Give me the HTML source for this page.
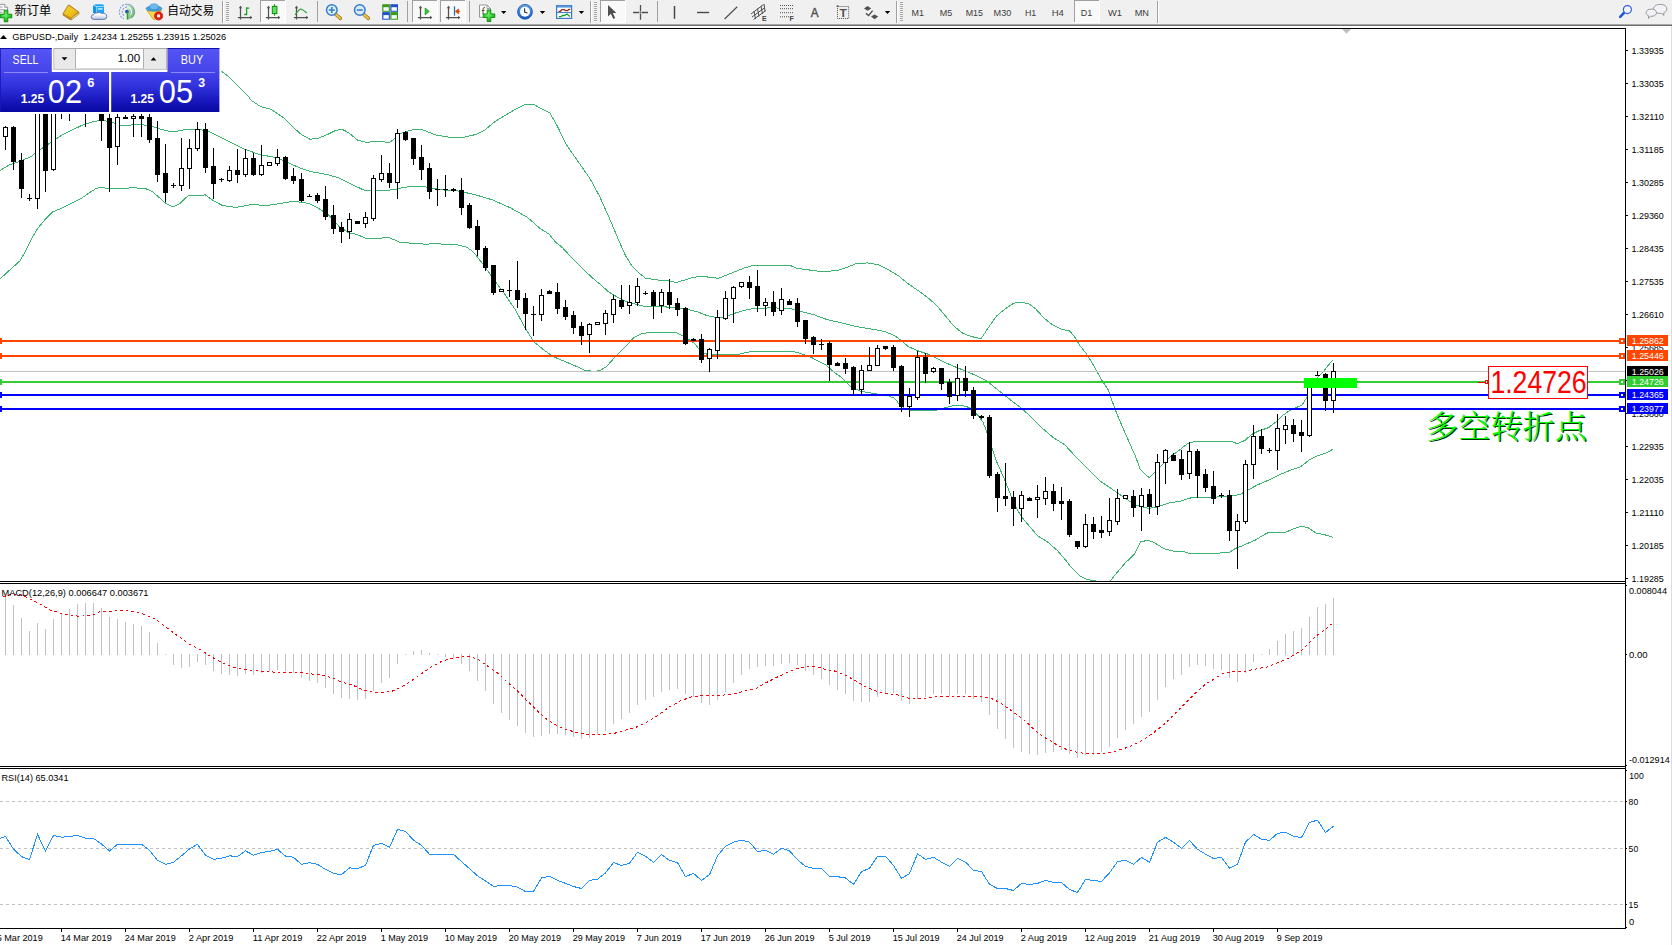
<!DOCTYPE html>
<html><head><meta charset="utf-8"><title>GBPUSD Daily</title>
<style>
html,body{margin:0;padding:0;background:#fff;}
body{width:1672px;height:945px;position:relative;overflow:hidden;font-family:'Liberation Sans', sans-serif;}
#tb{position:absolute;left:0;top:0;width:1672px;height:24px;background:#f0f0f0;}
#tbl1{position:absolute;left:0;top:24px;width:1672px;height:1px;background:#a8a8a8;}
#tbl2{position:absolute;left:0;top:25px;width:1672px;height:1px;background:#6e6e6e;}
#redge{position:absolute;left:1671px;top:26px;width:1px;height:919px;background:#dcdcdc;}
svg{position:absolute;left:0;top:0;}

</style></head><body>
<div id="tb"></div><div id="tbl1"></div><div id="tbl2"></div><div id="redge"></div>
<svg width="1672" height="945" viewBox="0 0 1672 945">
<defs>
<clipPath id="cm"><rect x="0" y="29" width="1625" height="552"/></clipPath>
<clipPath id="cd"><rect x="0" y="584" width="1625" height="182"/></clipPath>
<clipPath id="cr"><rect x="0" y="769" width="1625" height="159"/></clipPath>
</defs>
<g clip-path="url(#cm)" shape-rendering="crispEdges">
<polyline points="221.0,71.0 227.8,76.0 233.2,81.4 241.3,89.5 248.5,96.3 250.8,100.0 261.0,106.8 271.1,109.3 284.7,118.6 294.8,128.8 301.6,134.7 310.1,139.3 318.5,138.1 327.0,134.7 335.5,130.5 342.3,129.3 349.0,133.0 357.5,140.1 366.0,142.3 377.8,141.5 389.7,142.3 396.5,137.3 400.0,133.7 410.2,130.1 422.0,129.5 435.6,134.9 450.8,137.4 464.4,137.1 476.2,134.4 484.7,130.1 494.8,121.7 505.0,115.4 515.2,109.5 525.3,104.4 533.8,104.4 540.6,108.3 549.9,112.9 557.5,126.4 566.0,144.2 577.8,161.1 589.7,178.1 599.8,196.7 610.0,219.6 614.4,230.0 618.6,240.2 625.4,255.4 632.2,266.4 639.0,273.2 645.7,278.3 657.6,280.0 667.7,280.8 676.2,282.5 684.7,280.0 693.1,277.4 701.6,276.1 710.1,277.4 718.5,278.3 727.0,274.9 735.5,271.5 744.0,268.1 752.4,265.6 769.4,265.2 789.7,265.2 796.5,268.1 800.0,268.8 810.2,270.1 822.0,271.7 837.3,270.5 847.4,267.1 855.9,263.7 867.7,262.9 877.9,264.6 888.1,269.6 898.2,275.6 908.4,284.0 918.5,290.8 928.7,298.4 937.2,306.0 945.6,316.2 954.1,326.4 962.6,333.1 971.0,336.5 981.2,338.6 988.0,328.1 996.5,316.2 1000.0,313.0 1006.8,307.9 1013.5,303.4 1020.3,302.0 1028.8,303.7 1035.6,308.8 1044.0,318.1 1052.5,324.9 1061.0,329.1 1069.4,330.8 1074.5,336.7 1079.6,345.2 1086.4,353.7 1093.1,364.7 1101.6,379.9 1108.4,390.1 1111.8,400.2 1116.9,413.8 1121.9,425.6 1129.2,442.3 1136.0,457.6 1140.0,469.1 1145.1,474.2 1149.3,477.6 1155.2,471.7 1162.0,464.9 1170.5,456.4 1179.0,450.5 1187.4,443.7 1194.2,441.7 1207.7,441.2 1221.3,441.2 1231.5,441.5 1237.4,443.7 1245.0,440.3 1251.8,434.4 1258.5,431.0 1268.7,427.6 1277.2,420.8 1282.6,415.5 1289.1,411.0 1295.5,407.8 1302.0,405.2 1307.2,396.8 1312.3,385.2 1317.5,377.4 1323.9,371.0 1330.4,362.6 1333.2,360.0" fill="none" stroke="#3cb371" stroke-width="1"/>
<polyline points="0.0,170.4 10.2,164.5 20.3,161.1 30.5,156.9 40.6,149.3 50.8,142.5 61.0,135.7 71.1,130.6 81.3,125.6 91.5,122.2 101.6,120.1 111.8,122.2 121.9,125.6 135.5,124.7 149.0,125.2 160.9,129.3 172.7,132.0 186.3,129.3 200.0,129.6 208.5,131.3 225.4,139.8 242.3,148.3 259.3,154.5 276.2,157.6 289.8,163.5 301.6,168.6 310.1,171.5 327.0,174.5 338.9,177.9 352.4,184.7 364.3,190.3 374.4,190.3 386.3,190.6 398.1,188.9 400.0,188.2 410.2,186.5 423.7,186.5 442.3,189.9 459.3,191.1 476.2,195.0 493.1,200.1 510.1,207.7 527.0,217.0 540.6,228.9 549.0,234.0 555.8,242.4 562.6,247.8 572.7,258.8 582.9,269.0 594.8,280.0 600.0,284.2 608.5,291.8 616.9,296.9 625.4,301.1 633.9,303.7 644.0,306.2 659.3,306.2 674.5,307.9 688.1,309.6 698.2,312.1 706.7,315.5 715.2,317.2 721.9,317.2 728.7,315.5 735.5,313.0 744.0,310.4 752.4,308.8 769.4,307.9 789.7,308.2 796.5,310.4 800.0,311.2 813.5,314.6 827.1,319.6 842.3,323.0 855.9,326.4 871.1,329.0 884.7,331.5 894.8,335.7 901.6,340.8 908.4,346.7 918.5,351.0 928.7,354.4 935.5,357.7 945.6,362.8 955.8,367.1 966.0,371.3 976.1,375.5 986.3,380.6 994.8,387.4 1003.2,394.2 1010.6,400.0 1020.8,407.6 1031.0,416.9 1041.1,427.1 1053.0,437.3 1064.8,444.9 1075.0,455.9 1088.5,469.4 1100.4,481.3 1110.6,488.1 1119.0,494.0 1127.5,499.9 1136.0,505.0 1140.0,506.4 1148.5,508.4 1156.9,507.2 1168.8,503.0 1180.6,501.0 1190.8,497.9 1199.3,497.1 1211.1,497.6 1221.3,496.5 1231.5,496.2 1239.9,494.5 1248.4,489.8 1258.5,484.4 1268.7,480.1 1278.9,475.0 1289.0,470.8 1300.9,466.6 1309.4,459.8 1317.8,455.6 1326.3,453.0 1333.1,449.1" fill="none" stroke="#3cb371" stroke-width="1"/>
<polyline points="0.0,279.0 10.0,269.8 20.0,260.8 26.2,250.0 30.5,240.7 37.3,228.9 45.7,218.7 52.5,211.9 61.0,208.5 71.1,203.5 81.3,198.4 89.8,192.5 96.5,188.2 101.6,187.4 108.4,188.6 118.5,188.2 135.5,187.9 145.6,188.6 152.4,191.6 159.2,197.5 166.0,203.5 172.7,206.9 179.5,203.8 188.0,195.8 198.1,195.0 200.0,195.7 205.1,194.8 213.5,200.8 222.0,205.3 235.6,207.5 250.8,204.7 267.7,205.3 279.6,203.6 293.1,201.3 308.4,203.3 318.5,208.4 328.7,215.2 338.9,226.2 349.0,232.9 357.5,234.6 366.0,238.5 377.8,238.5 388.0,237.2 398.1,241.4 400.0,242.4 416.9,243.5 427.1,244.4 433.9,243.2 442.3,244.1 457.6,244.9 466.0,246.9 471.1,250.3 476.2,255.4 484.7,266.4 494.8,280.8 505.0,294.4 515.2,309.6 525.3,328.2 533.8,341.8 544.0,350.2 554.1,357.0 564.3,361.2 574.4,365.5 584.6,370.2 594.8,371.4 600.0,370.6 606.8,366.3 613.5,358.7 620.3,351.9 627.1,345.2 633.9,337.5 640.6,334.2 645.7,333.0 659.3,332.8 676.2,332.8 681.3,335.0 688.1,339.2 694.8,343.5 699.9,350.2 705.0,353.6 710.1,355.0 737.2,354.8 744.0,353.1 752.4,351.4 769.4,351.1 791.4,351.1 798.1,352.8 800.0,353.5 808.5,356.0 816.9,360.3 825.4,364.5 833.9,372.1 842.3,378.1 850.8,386.5 859.3,390.8 867.7,392.5 876.2,393.8 888.1,395.8 894.8,398.4 899.9,405.2 905.0,408.5 910.1,410.6 935.5,410.6 944.0,408.0 952.4,406.0 959.2,405.2 966.0,406.3 971.0,408.5 977.8,415.3 982.9,422.1 986.3,430.6 986.9,432.2 992.0,448.3 997.1,462.7 1003.9,477.9 1010.6,494.8 1017.4,510.1 1024.2,520.2 1030.0,526.9 1037.5,535.7 1047.6,542.0 1057.6,550.8 1065.2,559.6 1071.4,567.7 1079.0,575.3 1085.3,578.8 1091.5,580.3 1095.3,580.8 1100.3,582.8 1105.4,582.8 1110.4,580.8 1117.9,571.5 1125.5,562.7 1134.2,554.5 1140.5,542.0 1148.1,540.1 1154.3,542.6 1164.4,548.9 1173.2,551.1 1183.2,551.4 1189.5,553.5 1205.8,553.5 1215.9,553.3 1229.7,552.3 1234.7,548.9 1240.0,546.4 1241.6,546.2 1245.0,544.5 1245.0,544.5 1255.2,540.2 1261.9,536.0 1268.7,532.3 1285.6,532.3 1292.4,529.2 1300.9,526.2 1307.7,527.5 1316.1,533.1 1324.6,534.7 1333.1,537.4" fill="none" stroke="#3cb371" stroke-width="1"/>
</g>
<g shape-rendering="crispEdges">
<rect x="0" y="340" width="1625" height="2" fill="#ff4500"/>
<rect x="0" y="355" width="1625" height="2" fill="#ff4500"/>
<rect x="0" y="371" width="1625" height="1" fill="#c0c0c0"/>
<rect x="0" y="381" width="1625" height="2" fill="#32cd32"/>
<rect x="0" y="394" width="1625" height="2" fill="#0000ff"/>
<rect x="0" y="408" width="1625" height="2" fill="#0000ff"/>
</g>
<rect x="1304" y="378" width="53" height="10" fill="#00ff00" shape-rendering="crispEdges"/>
<g shape-rendering="crispEdges" clip-path="url(#cm)">
<rect x="5" y="126" width="1" height="24" fill="#000"/>
<rect x="3" y="127" width="5" height="10" fill="#000"/>
<rect x="4" y="128" width="3" height="8" fill="#fff"/>
<rect x="13" y="126" width="1" height="44" fill="#000"/>
<rect x="11" y="127" width="5" height="35" fill="#000"/>
<rect x="21" y="153" width="1" height="45" fill="#000"/>
<rect x="19" y="160" width="5" height="29" fill="#000"/>
<rect x="29" y="194" width="1" height="7" fill="#000"/>
<rect x="27" y="198" width="5" height="1" fill="#000"/>
<rect x="37" y="107" width="1" height="102" fill="#000"/>
<rect x="35" y="107" width="5" height="92" fill="#000"/>
<rect x="36" y="108" width="3" height="90" fill="#fff"/>
<rect x="45" y="107" width="1" height="85" fill="#000"/>
<rect x="43" y="107" width="5" height="64" fill="#000"/>
<rect x="53" y="107" width="1" height="64" fill="#000"/>
<rect x="51" y="107" width="5" height="63" fill="#000"/>
<rect x="52" y="108" width="3" height="61" fill="#fff"/>
<rect x="61" y="107" width="1" height="12" fill="#000"/>
<rect x="59" y="107" width="5" height="1" fill="#000"/>
<rect x="69" y="107" width="1" height="14" fill="#000"/>
<rect x="67" y="107" width="5" height="1" fill="#000"/>
<rect x="77" y="107" width="1" height="1" fill="#000"/>
<rect x="75" y="107" width="5" height="1" fill="#000"/>
<rect x="85" y="107" width="1" height="20" fill="#000"/>
<rect x="83" y="107" width="5" height="1" fill="#000"/>
<rect x="93" y="107" width="1" height="1" fill="#000"/>
<rect x="91" y="107" width="5" height="1" fill="#000"/>
<rect x="101" y="107" width="1" height="34" fill="#000"/>
<rect x="99" y="107" width="5" height="14" fill="#000"/>
<rect x="109" y="114" width="1" height="78" fill="#000"/>
<rect x="107" y="118" width="5" height="30" fill="#000"/>
<rect x="117" y="114" width="1" height="51" fill="#000"/>
<rect x="115" y="117" width="5" height="30" fill="#000"/>
<rect x="116" y="118" width="3" height="28" fill="#fff"/>
<rect x="125" y="115" width="1" height="4" fill="#000"/>
<rect x="123" y="117" width="5" height="2" fill="#000"/>
<rect x="133" y="114" width="1" height="23" fill="#000"/>
<rect x="131" y="116" width="5" height="3" fill="#000"/>
<rect x="132" y="117" width="3" height="1" fill="#fff"/>
<rect x="141" y="114" width="1" height="23" fill="#000"/>
<rect x="139" y="116" width="5" height="3" fill="#000"/>
<rect x="149" y="114" width="1" height="29" fill="#000"/>
<rect x="147" y="117" width="5" height="23" fill="#000"/>
<rect x="157" y="121" width="1" height="61" fill="#000"/>
<rect x="155" y="138" width="5" height="37" fill="#000"/>
<rect x="165" y="144" width="1" height="58" fill="#000"/>
<rect x="163" y="173" width="5" height="20" fill="#000"/>
<rect x="173" y="183" width="1" height="5" fill="#000"/>
<rect x="171" y="185" width="5" height="1" fill="#000"/>
<rect x="181" y="138" width="1" height="53" fill="#000"/>
<rect x="179" y="168" width="5" height="18" fill="#000"/>
<rect x="180" y="169" width="3" height="16" fill="#fff"/>
<rect x="189" y="139" width="1" height="50" fill="#000"/>
<rect x="187" y="148" width="5" height="21" fill="#000"/>
<rect x="188" y="149" width="3" height="19" fill="#fff"/>
<rect x="197" y="122" width="1" height="29" fill="#000"/>
<rect x="195" y="129" width="5" height="20" fill="#000"/>
<rect x="196" y="130" width="3" height="18" fill="#fff"/>
<rect x="205" y="123" width="1" height="50" fill="#000"/>
<rect x="203" y="129" width="5" height="39" fill="#000"/>
<rect x="213" y="148" width="1" height="51" fill="#000"/>
<rect x="211" y="166" width="5" height="18" fill="#000"/>
<rect x="221" y="178" width="1" height="4" fill="#000"/>
<rect x="219" y="179" width="5" height="1" fill="#000"/>
<rect x="229" y="166" width="1" height="16" fill="#000"/>
<rect x="227" y="170" width="5" height="11" fill="#000"/>
<rect x="228" y="171" width="3" height="9" fill="#fff"/>
<rect x="237" y="149" width="1" height="34" fill="#000"/>
<rect x="235" y="170" width="5" height="5" fill="#000"/>
<rect x="245" y="149" width="1" height="28" fill="#000"/>
<rect x="243" y="158" width="5" height="17" fill="#000"/>
<rect x="244" y="159" width="3" height="15" fill="#fff"/>
<rect x="253" y="153" width="1" height="23" fill="#000"/>
<rect x="251" y="158" width="5" height="17" fill="#000"/>
<rect x="261" y="145" width="1" height="31" fill="#000"/>
<rect x="259" y="165" width="5" height="10" fill="#000"/>
<rect x="260" y="166" width="3" height="8" fill="#fff"/>
<rect x="269" y="162" width="1" height="4" fill="#000"/>
<rect x="267" y="162" width="5" height="4" fill="#000"/>
<rect x="268" y="163" width="3" height="2" fill="#fff"/>
<rect x="277" y="149" width="1" height="17" fill="#000"/>
<rect x="275" y="157" width="5" height="7" fill="#000"/>
<rect x="276" y="158" width="3" height="5" fill="#fff"/>
<rect x="285" y="156" width="1" height="24" fill="#000"/>
<rect x="283" y="157" width="5" height="22" fill="#000"/>
<rect x="293" y="168" width="1" height="16" fill="#000"/>
<rect x="291" y="176" width="5" height="5" fill="#000"/>
<rect x="301" y="173" width="1" height="29" fill="#000"/>
<rect x="299" y="179" width="5" height="22" fill="#000"/>
<rect x="309" y="194" width="1" height="3" fill="#000"/>
<rect x="307" y="196" width="5" height="1" fill="#000"/>
<rect x="317" y="193" width="1" height="10" fill="#000"/>
<rect x="315" y="195" width="5" height="6" fill="#000"/>
<rect x="325" y="186" width="1" height="34" fill="#000"/>
<rect x="323" y="199" width="5" height="18" fill="#000"/>
<rect x="333" y="205" width="1" height="29" fill="#000"/>
<rect x="331" y="215" width="5" height="14" fill="#000"/>
<rect x="341" y="222" width="1" height="21" fill="#000"/>
<rect x="339" y="227" width="5" height="5" fill="#000"/>
<rect x="349" y="213" width="1" height="26" fill="#000"/>
<rect x="347" y="219" width="5" height="13" fill="#000"/>
<rect x="348" y="220" width="3" height="11" fill="#fff"/>
<rect x="357" y="221" width="1" height="3" fill="#000"/>
<rect x="355" y="221" width="5" height="3" fill="#000"/>
<rect x="365" y="212" width="1" height="16" fill="#000"/>
<rect x="363" y="217" width="5" height="7" fill="#000"/>
<rect x="364" y="218" width="3" height="5" fill="#fff"/>
<rect x="373" y="175" width="1" height="46" fill="#000"/>
<rect x="371" y="178" width="5" height="41" fill="#000"/>
<rect x="372" y="179" width="3" height="39" fill="#fff"/>
<rect x="381" y="155" width="1" height="27" fill="#000"/>
<rect x="379" y="173" width="5" height="7" fill="#000"/>
<rect x="380" y="174" width="3" height="5" fill="#fff"/>
<rect x="389" y="163" width="1" height="25" fill="#000"/>
<rect x="387" y="173" width="5" height="10" fill="#000"/>
<rect x="397" y="129" width="1" height="70" fill="#000"/>
<rect x="395" y="133" width="5" height="50" fill="#000"/>
<rect x="396" y="134" width="3" height="48" fill="#fff"/>
<rect x="405" y="131" width="1" height="10" fill="#000"/>
<rect x="403" y="132" width="5" height="8" fill="#000"/>
<rect x="413" y="138" width="1" height="27" fill="#000"/>
<rect x="411" y="138" width="5" height="21" fill="#000"/>
<rect x="421" y="145" width="1" height="35" fill="#000"/>
<rect x="419" y="157" width="5" height="13" fill="#000"/>
<rect x="429" y="163" width="1" height="36" fill="#000"/>
<rect x="427" y="168" width="5" height="24" fill="#000"/>
<rect x="437" y="179" width="1" height="27" fill="#000"/>
<rect x="435" y="189" width="5" height="1" fill="#000"/>
<rect x="445" y="175" width="1" height="22" fill="#000"/>
<rect x="443" y="189" width="5" height="1" fill="#000"/>
<rect x="453" y="188" width="1" height="4" fill="#000"/>
<rect x="451" y="189" width="5" height="2" fill="#000"/>
<rect x="461" y="178" width="1" height="37" fill="#000"/>
<rect x="459" y="190" width="5" height="18" fill="#000"/>
<rect x="469" y="203" width="1" height="26" fill="#000"/>
<rect x="467" y="205" width="5" height="23" fill="#000"/>
<rect x="477" y="220" width="1" height="36" fill="#000"/>
<rect x="475" y="226" width="5" height="24" fill="#000"/>
<rect x="485" y="246" width="1" height="25" fill="#000"/>
<rect x="483" y="248" width="5" height="20" fill="#000"/>
<rect x="493" y="265" width="1" height="30" fill="#000"/>
<rect x="491" y="265" width="5" height="28" fill="#000"/>
<rect x="501" y="289" width="1" height="3" fill="#000"/>
<rect x="499" y="289" width="5" height="3" fill="#000"/>
<rect x="500" y="290" width="3" height="1" fill="#fff"/>
<rect x="509" y="280" width="1" height="17" fill="#000"/>
<rect x="507" y="290" width="5" height="1" fill="#000"/>
<rect x="517" y="261" width="1" height="47" fill="#000"/>
<rect x="515" y="290" width="5" height="10" fill="#000"/>
<rect x="525" y="293" width="1" height="37" fill="#000"/>
<rect x="523" y="298" width="5" height="16" fill="#000"/>
<rect x="533" y="306" width="1" height="30" fill="#000"/>
<rect x="531" y="314" width="5" height="1" fill="#000"/>
<rect x="541" y="289" width="1" height="32" fill="#000"/>
<rect x="539" y="295" width="5" height="20" fill="#000"/>
<rect x="540" y="296" width="3" height="18" fill="#fff"/>
<rect x="549" y="290" width="1" height="4" fill="#000"/>
<rect x="547" y="291" width="5" height="3" fill="#000"/>
<rect x="557" y="283" width="1" height="31" fill="#000"/>
<rect x="555" y="292" width="5" height="17" fill="#000"/>
<rect x="565" y="300" width="1" height="20" fill="#000"/>
<rect x="563" y="307" width="5" height="10" fill="#000"/>
<rect x="573" y="311" width="1" height="23" fill="#000"/>
<rect x="571" y="315" width="5" height="13" fill="#000"/>
<rect x="581" y="322" width="1" height="23" fill="#000"/>
<rect x="579" y="326" width="5" height="10" fill="#000"/>
<rect x="589" y="323" width="1" height="30" fill="#000"/>
<rect x="587" y="324" width="5" height="11" fill="#000"/>
<rect x="588" y="325" width="3" height="9" fill="#fff"/>
<rect x="597" y="322" width="1" height="3" fill="#000"/>
<rect x="595" y="322" width="5" height="3" fill="#000"/>
<rect x="596" y="323" width="3" height="1" fill="#fff"/>
<rect x="605" y="310" width="1" height="25" fill="#000"/>
<rect x="603" y="313" width="5" height="11" fill="#000"/>
<rect x="604" y="314" width="3" height="9" fill="#fff"/>
<rect x="613" y="295" width="1" height="28" fill="#000"/>
<rect x="611" y="299" width="5" height="16" fill="#000"/>
<rect x="612" y="300" width="3" height="14" fill="#fff"/>
<rect x="621" y="285" width="1" height="24" fill="#000"/>
<rect x="619" y="300" width="5" height="7" fill="#000"/>
<rect x="629" y="285" width="1" height="29" fill="#000"/>
<rect x="627" y="302" width="5" height="4" fill="#000"/>
<rect x="628" y="303" width="3" height="2" fill="#fff"/>
<rect x="637" y="278" width="1" height="28" fill="#000"/>
<rect x="635" y="286" width="5" height="17" fill="#000"/>
<rect x="636" y="287" width="3" height="15" fill="#fff"/>
<rect x="645" y="291" width="1" height="4" fill="#000"/>
<rect x="643" y="293" width="5" height="1" fill="#000"/>
<rect x="653" y="290" width="1" height="29" fill="#000"/>
<rect x="651" y="292" width="5" height="14" fill="#000"/>
<rect x="661" y="289" width="1" height="24" fill="#000"/>
<rect x="659" y="292" width="5" height="14" fill="#000"/>
<rect x="660" y="293" width="3" height="12" fill="#fff"/>
<rect x="669" y="279" width="1" height="30" fill="#000"/>
<rect x="667" y="292" width="5" height="13" fill="#000"/>
<rect x="677" y="298" width="1" height="18" fill="#000"/>
<rect x="675" y="303" width="5" height="7" fill="#000"/>
<rect x="685" y="307" width="1" height="38" fill="#000"/>
<rect x="683" y="308" width="5" height="36" fill="#000"/>
<rect x="693" y="338" width="1" height="3" fill="#000"/>
<rect x="691" y="339" width="5" height="2" fill="#000"/>
<rect x="701" y="334" width="1" height="29" fill="#000"/>
<rect x="699" y="339" width="5" height="21" fill="#000"/>
<rect x="709" y="348" width="1" height="24" fill="#000"/>
<rect x="707" y="349" width="5" height="10" fill="#000"/>
<rect x="708" y="350" width="3" height="8" fill="#fff"/>
<rect x="717" y="310" width="1" height="49" fill="#000"/>
<rect x="715" y="317" width="5" height="34" fill="#000"/>
<rect x="716" y="318" width="3" height="32" fill="#fff"/>
<rect x="725" y="291" width="1" height="29" fill="#000"/>
<rect x="723" y="298" width="5" height="21" fill="#000"/>
<rect x="724" y="299" width="3" height="19" fill="#fff"/>
<rect x="733" y="286" width="1" height="37" fill="#000"/>
<rect x="731" y="287" width="5" height="12" fill="#000"/>
<rect x="732" y="288" width="3" height="10" fill="#fff"/>
<rect x="741" y="282" width="1" height="6" fill="#000"/>
<rect x="739" y="282" width="5" height="5" fill="#000"/>
<rect x="740" y="283" width="3" height="3" fill="#fff"/>
<rect x="749" y="276" width="1" height="23" fill="#000"/>
<rect x="747" y="282" width="5" height="6" fill="#000"/>
<rect x="757" y="270" width="1" height="42" fill="#000"/>
<rect x="755" y="286" width="5" height="20" fill="#000"/>
<rect x="765" y="298" width="1" height="18" fill="#000"/>
<rect x="763" y="302" width="5" height="4" fill="#000"/>
<rect x="764" y="303" width="3" height="2" fill="#fff"/>
<rect x="773" y="291" width="1" height="25" fill="#000"/>
<rect x="771" y="302" width="5" height="10" fill="#000"/>
<rect x="781" y="288" width="1" height="27" fill="#000"/>
<rect x="779" y="299" width="5" height="12" fill="#000"/>
<rect x="780" y="300" width="3" height="10" fill="#fff"/>
<rect x="789" y="299" width="1" height="6" fill="#000"/>
<rect x="787" y="301" width="5" height="4" fill="#000"/>
<rect x="797" y="298" width="1" height="29" fill="#000"/>
<rect x="795" y="303" width="5" height="19" fill="#000"/>
<rect x="805" y="320" width="1" height="24" fill="#000"/>
<rect x="803" y="320" width="5" height="19" fill="#000"/>
<rect x="813" y="336" width="1" height="18" fill="#000"/>
<rect x="811" y="337" width="5" height="8" fill="#000"/>
<rect x="821" y="339" width="1" height="11" fill="#000"/>
<rect x="819" y="344" width="5" height="1" fill="#000"/>
<rect x="829" y="341" width="1" height="40" fill="#000"/>
<rect x="827" y="343" width="5" height="22" fill="#000"/>
<rect x="837" y="362" width="1" height="4" fill="#000"/>
<rect x="835" y="363" width="5" height="3" fill="#000"/>
<rect x="845" y="358" width="1" height="16" fill="#000"/>
<rect x="843" y="363" width="5" height="6" fill="#000"/>
<rect x="853" y="366" width="1" height="30" fill="#000"/>
<rect x="851" y="367" width="5" height="23" fill="#000"/>
<rect x="861" y="365" width="1" height="30" fill="#000"/>
<rect x="859" y="370" width="5" height="20" fill="#000"/>
<rect x="860" y="371" width="3" height="18" fill="#fff"/>
<rect x="869" y="347" width="1" height="24" fill="#000"/>
<rect x="867" y="365" width="5" height="6" fill="#000"/>
<rect x="868" y="366" width="3" height="4" fill="#fff"/>
<rect x="877" y="345" width="1" height="21" fill="#000"/>
<rect x="875" y="348" width="5" height="18" fill="#000"/>
<rect x="876" y="349" width="3" height="16" fill="#fff"/>
<rect x="885" y="346" width="1" height="4" fill="#000"/>
<rect x="883" y="346" width="5" height="3" fill="#000"/>
<rect x="893" y="345" width="1" height="26" fill="#000"/>
<rect x="891" y="347" width="5" height="21" fill="#000"/>
<rect x="901" y="365" width="1" height="47" fill="#000"/>
<rect x="899" y="366" width="5" height="41" fill="#000"/>
<rect x="909" y="388" width="1" height="29" fill="#000"/>
<rect x="907" y="396" width="5" height="11" fill="#000"/>
<rect x="908" y="397" width="3" height="9" fill="#fff"/>
<rect x="917" y="351" width="1" height="49" fill="#000"/>
<rect x="915" y="357" width="5" height="41" fill="#000"/>
<rect x="916" y="358" width="3" height="39" fill="#fff"/>
<rect x="925" y="353" width="1" height="30" fill="#000"/>
<rect x="923" y="357" width="5" height="17" fill="#000"/>
<rect x="933" y="367" width="1" height="6" fill="#000"/>
<rect x="931" y="368" width="5" height="4" fill="#000"/>
<rect x="932" y="369" width="3" height="2" fill="#fff"/>
<rect x="941" y="368" width="1" height="22" fill="#000"/>
<rect x="939" y="368" width="5" height="16" fill="#000"/>
<rect x="949" y="379" width="1" height="25" fill="#000"/>
<rect x="947" y="382" width="5" height="15" fill="#000"/>
<rect x="957" y="364" width="1" height="37" fill="#000"/>
<rect x="955" y="378" width="5" height="18" fill="#000"/>
<rect x="956" y="379" width="3" height="16" fill="#fff"/>
<rect x="965" y="366" width="1" height="31" fill="#000"/>
<rect x="963" y="378" width="5" height="13" fill="#000"/>
<rect x="973" y="387" width="1" height="32" fill="#000"/>
<rect x="971" y="390" width="5" height="26" fill="#000"/>
<rect x="981" y="415" width="1" height="4" fill="#000"/>
<rect x="979" y="416" width="5" height="2" fill="#000"/>
<rect x="989" y="415" width="1" height="63" fill="#000"/>
<rect x="987" y="417" width="5" height="59" fill="#000"/>
<rect x="997" y="472" width="1" height="40" fill="#000"/>
<rect x="995" y="474" width="5" height="24" fill="#000"/>
<rect x="1005" y="463" width="1" height="43" fill="#000"/>
<rect x="1003" y="496" width="5" height="3" fill="#000"/>
<rect x="1013" y="491" width="1" height="35" fill="#000"/>
<rect x="1011" y="497" width="5" height="12" fill="#000"/>
<rect x="1021" y="491" width="1" height="31" fill="#000"/>
<rect x="1019" y="495" width="5" height="14" fill="#000"/>
<rect x="1020" y="496" width="3" height="12" fill="#fff"/>
<rect x="1029" y="497" width="1" height="4" fill="#000"/>
<rect x="1027" y="498" width="5" height="3" fill="#000"/>
<rect x="1037" y="485" width="1" height="33" fill="#000"/>
<rect x="1035" y="497" width="5" height="3" fill="#000"/>
<rect x="1036" y="498" width="3" height="1" fill="#fff"/>
<rect x="1045" y="477" width="1" height="28" fill="#000"/>
<rect x="1043" y="491" width="5" height="8" fill="#000"/>
<rect x="1044" y="492" width="3" height="6" fill="#fff"/>
<rect x="1053" y="484" width="1" height="27" fill="#000"/>
<rect x="1051" y="491" width="5" height="13" fill="#000"/>
<rect x="1061" y="487" width="1" height="33" fill="#000"/>
<rect x="1059" y="501" width="5" height="3" fill="#000"/>
<rect x="1069" y="499" width="1" height="38" fill="#000"/>
<rect x="1067" y="501" width="5" height="34" fill="#000"/>
<rect x="1077" y="541" width="1" height="8" fill="#000"/>
<rect x="1075" y="541" width="5" height="6" fill="#000"/>
<rect x="1085" y="514" width="1" height="34" fill="#000"/>
<rect x="1083" y="524" width="5" height="23" fill="#000"/>
<rect x="1084" y="525" width="3" height="21" fill="#fff"/>
<rect x="1093" y="517" width="1" height="22" fill="#000"/>
<rect x="1091" y="524" width="5" height="8" fill="#000"/>
<rect x="1101" y="516" width="1" height="22" fill="#000"/>
<rect x="1099" y="530" width="5" height="3" fill="#000"/>
<rect x="1109" y="498" width="1" height="38" fill="#000"/>
<rect x="1107" y="520" width="5" height="12" fill="#000"/>
<rect x="1108" y="521" width="3" height="10" fill="#fff"/>
<rect x="1117" y="489" width="1" height="36" fill="#000"/>
<rect x="1115" y="498" width="5" height="24" fill="#000"/>
<rect x="1116" y="499" width="3" height="22" fill="#fff"/>
<rect x="1125" y="495" width="1" height="4" fill="#000"/>
<rect x="1123" y="495" width="5" height="4" fill="#000"/>
<rect x="1124" y="496" width="3" height="2" fill="#fff"/>
<rect x="1133" y="490" width="1" height="27" fill="#000"/>
<rect x="1131" y="496" width="5" height="12" fill="#000"/>
<rect x="1141" y="488" width="1" height="43" fill="#000"/>
<rect x="1139" y="495" width="5" height="12" fill="#000"/>
<rect x="1140" y="496" width="3" height="10" fill="#fff"/>
<rect x="1149" y="489" width="1" height="25" fill="#000"/>
<rect x="1147" y="494" width="5" height="13" fill="#000"/>
<rect x="1157" y="454" width="1" height="61" fill="#000"/>
<rect x="1155" y="462" width="5" height="45" fill="#000"/>
<rect x="1156" y="463" width="3" height="43" fill="#fff"/>
<rect x="1165" y="449" width="1" height="35" fill="#000"/>
<rect x="1163" y="450" width="5" height="13" fill="#000"/>
<rect x="1164" y="451" width="3" height="11" fill="#fff"/>
<rect x="1173" y="453" width="1" height="8" fill="#000"/>
<rect x="1171" y="455" width="5" height="6" fill="#000"/>
<rect x="1181" y="450" width="1" height="30" fill="#000"/>
<rect x="1179" y="459" width="5" height="16" fill="#000"/>
<rect x="1189" y="442" width="1" height="37" fill="#000"/>
<rect x="1187" y="451" width="5" height="23" fill="#000"/>
<rect x="1188" y="452" width="3" height="21" fill="#fff"/>
<rect x="1197" y="449" width="1" height="49" fill="#000"/>
<rect x="1195" y="451" width="5" height="25" fill="#000"/>
<rect x="1205" y="469" width="1" height="23" fill="#000"/>
<rect x="1203" y="474" width="5" height="14" fill="#000"/>
<rect x="1213" y="471" width="1" height="33" fill="#000"/>
<rect x="1211" y="486" width="5" height="13" fill="#000"/>
<rect x="1221" y="493" width="1" height="5" fill="#000"/>
<rect x="1219" y="495" width="5" height="1" fill="#000"/>
<rect x="1229" y="490" width="1" height="51" fill="#000"/>
<rect x="1227" y="495" width="5" height="36" fill="#000"/>
<rect x="1237" y="514" width="1" height="55" fill="#000"/>
<rect x="1235" y="521" width="5" height="10" fill="#000"/>
<rect x="1236" y="522" width="3" height="8" fill="#fff"/>
<rect x="1245" y="460" width="1" height="64" fill="#000"/>
<rect x="1243" y="464" width="5" height="58" fill="#000"/>
<rect x="1244" y="465" width="3" height="56" fill="#fff"/>
<rect x="1253" y="425" width="1" height="54" fill="#000"/>
<rect x="1251" y="436" width="5" height="29" fill="#000"/>
<rect x="1252" y="437" width="3" height="27" fill="#fff"/>
<rect x="1261" y="429" width="1" height="25" fill="#000"/>
<rect x="1259" y="436" width="5" height="13" fill="#000"/>
<rect x="1269" y="448" width="1" height="5" fill="#000"/>
<rect x="1267" y="450" width="5" height="1" fill="#000"/>
<rect x="1277" y="414" width="1" height="56" fill="#000"/>
<rect x="1275" y="428" width="5" height="23" fill="#000"/>
<rect x="1276" y="429" width="3" height="21" fill="#fff"/>
<rect x="1285" y="416" width="1" height="28" fill="#000"/>
<rect x="1283" y="425" width="5" height="5" fill="#000"/>
<rect x="1284" y="426" width="3" height="3" fill="#fff"/>
<rect x="1293" y="419" width="1" height="23" fill="#000"/>
<rect x="1291" y="425" width="5" height="9" fill="#000"/>
<rect x="1301" y="420" width="1" height="32" fill="#000"/>
<rect x="1299" y="432" width="5" height="4" fill="#000"/>
<rect x="1309" y="383" width="1" height="54" fill="#000"/>
<rect x="1307" y="384" width="5" height="52" fill="#000"/>
<rect x="1308" y="385" width="3" height="50" fill="#fff"/>
<rect x="1317" y="371" width="1" height="5" fill="#000"/>
<rect x="1315" y="375" width="5" height="1" fill="#000"/>
<rect x="1325" y="373" width="1" height="38" fill="#000"/>
<rect x="1323" y="374" width="5" height="27" fill="#000"/>
<rect x="1333" y="363" width="1" height="50" fill="#000"/>
<rect x="1331" y="371" width="5" height="30" fill="#000"/>
<rect x="1332" y="372" width="3" height="28" fill="#fff"/>
</g>
<rect x="1304" y="378" width="53" height="10" fill="#00ff00" shape-rendering="crispEdges"/>
<g shape-rendering="crispEdges" clip-path="url(#cd)">
<rect x="5" y="596" width="1" height="59" fill="#c0c0c0"/>
<rect x="13" y="605" width="1" height="50" fill="#c0c0c0"/>
<rect x="21" y="618" width="1" height="37" fill="#c0c0c0"/>
<rect x="29" y="631" width="1" height="24" fill="#c0c0c0"/>
<rect x="37" y="623" width="1" height="32" fill="#c0c0c0"/>
<rect x="45" y="629" width="1" height="26" fill="#c0c0c0"/>
<rect x="53" y="619" width="1" height="36" fill="#c0c0c0"/>
<rect x="61" y="614" width="1" height="41" fill="#c0c0c0"/>
<rect x="69" y="609" width="1" height="46" fill="#c0c0c0"/>
<rect x="77" y="604" width="1" height="51" fill="#c0c0c0"/>
<rect x="85" y="603" width="1" height="52" fill="#c0c0c0"/>
<rect x="93" y="603" width="1" height="52" fill="#c0c0c0"/>
<rect x="101" y="608" width="1" height="47" fill="#c0c0c0"/>
<rect x="109" y="617" width="1" height="38" fill="#c0c0c0"/>
<rect x="117" y="619" width="1" height="36" fill="#c0c0c0"/>
<rect x="125" y="622" width="1" height="33" fill="#c0c0c0"/>
<rect x="133" y="624" width="1" height="31" fill="#c0c0c0"/>
<rect x="141" y="626" width="1" height="29" fill="#c0c0c0"/>
<rect x="149" y="632" width="1" height="23" fill="#c0c0c0"/>
<rect x="157" y="643" width="1" height="12" fill="#c0c0c0"/>
<rect x="165" y="654" width="1" height="1" fill="#c0c0c0"/>
<rect x="173" y="654" width="1" height="11" fill="#c0c0c0"/>
<rect x="181" y="654" width="1" height="14" fill="#c0c0c0"/>
<rect x="189" y="654" width="1" height="13" fill="#c0c0c0"/>
<rect x="197" y="654" width="1" height="8" fill="#c0c0c0"/>
<rect x="205" y="654" width="1" height="11" fill="#c0c0c0"/>
<rect x="213" y="654" width="1" height="17" fill="#c0c0c0"/>
<rect x="221" y="654" width="1" height="20" fill="#c0c0c0"/>
<rect x="229" y="654" width="1" height="21" fill="#c0c0c0"/>
<rect x="237" y="654" width="1" height="22" fill="#c0c0c0"/>
<rect x="245" y="654" width="1" height="20" fill="#c0c0c0"/>
<rect x="253" y="654" width="1" height="21" fill="#c0c0c0"/>
<rect x="261" y="654" width="1" height="19" fill="#c0c0c0"/>
<rect x="269" y="654" width="1" height="17" fill="#c0c0c0"/>
<rect x="277" y="654" width="1" height="16" fill="#c0c0c0"/>
<rect x="285" y="654" width="1" height="17" fill="#c0c0c0"/>
<rect x="293" y="654" width="1" height="19" fill="#c0c0c0"/>
<rect x="301" y="654" width="1" height="24" fill="#c0c0c0"/>
<rect x="309" y="654" width="1" height="27" fill="#c0c0c0"/>
<rect x="317" y="654" width="1" height="29" fill="#c0c0c0"/>
<rect x="325" y="654" width="1" height="34" fill="#c0c0c0"/>
<rect x="333" y="654" width="1" height="40" fill="#c0c0c0"/>
<rect x="341" y="654" width="1" height="44" fill="#c0c0c0"/>
<rect x="349" y="654" width="1" height="45" fill="#c0c0c0"/>
<rect x="357" y="654" width="1" height="46" fill="#c0c0c0"/>
<rect x="365" y="654" width="1" height="45" fill="#c0c0c0"/>
<rect x="373" y="654" width="1" height="37" fill="#c0c0c0"/>
<rect x="381" y="654" width="1" height="29" fill="#c0c0c0"/>
<rect x="389" y="654" width="1" height="24" fill="#c0c0c0"/>
<rect x="397" y="654" width="1" height="10" fill="#c0c0c0"/>
<rect x="405" y="654" width="1" height="1" fill="#c0c0c0"/>
<rect x="413" y="651" width="1" height="4" fill="#c0c0c0"/>
<rect x="421" y="650" width="1" height="5" fill="#c0c0c0"/>
<rect x="429" y="653" width="1" height="2" fill="#c0c0c0"/>
<rect x="437" y="654" width="1" height="1" fill="#c0c0c0"/>
<rect x="445" y="654" width="1" height="3" fill="#c0c0c0"/>
<rect x="453" y="654" width="1" height="4" fill="#c0c0c0"/>
<rect x="461" y="654" width="1" height="10" fill="#c0c0c0"/>
<rect x="469" y="654" width="1" height="17" fill="#c0c0c0"/>
<rect x="477" y="654" width="1" height="27" fill="#c0c0c0"/>
<rect x="485" y="654" width="1" height="37" fill="#c0c0c0"/>
<rect x="493" y="654" width="1" height="50" fill="#c0c0c0"/>
<rect x="501" y="654" width="1" height="59" fill="#c0c0c0"/>
<rect x="509" y="654" width="1" height="66" fill="#c0c0c0"/>
<rect x="517" y="654" width="1" height="72" fill="#c0c0c0"/>
<rect x="525" y="654" width="1" height="79" fill="#c0c0c0"/>
<rect x="533" y="654" width="1" height="83" fill="#c0c0c0"/>
<rect x="541" y="654" width="1" height="82" fill="#c0c0c0"/>
<rect x="549" y="654" width="1" height="80" fill="#c0c0c0"/>
<rect x="557" y="654" width="1" height="80" fill="#c0c0c0"/>
<rect x="565" y="654" width="1" height="81" fill="#c0c0c0"/>
<rect x="573" y="654" width="1" height="83" fill="#c0c0c0"/>
<rect x="581" y="654" width="1" height="85" fill="#c0c0c0"/>
<rect x="589" y="654" width="1" height="84" fill="#c0c0c0"/>
<rect x="597" y="654" width="1" height="81" fill="#c0c0c0"/>
<rect x="605" y="654" width="1" height="77" fill="#c0c0c0"/>
<rect x="613" y="654" width="1" height="70" fill="#c0c0c0"/>
<rect x="621" y="654" width="1" height="65" fill="#c0c0c0"/>
<rect x="629" y="654" width="1" height="59" fill="#c0c0c0"/>
<rect x="637" y="654" width="1" height="51" fill="#c0c0c0"/>
<rect x="645" y="654" width="1" height="46" fill="#c0c0c0"/>
<rect x="653" y="654" width="1" height="43" fill="#c0c0c0"/>
<rect x="661" y="654" width="1" height="38" fill="#c0c0c0"/>
<rect x="669" y="654" width="1" height="36" fill="#c0c0c0"/>
<rect x="677" y="654" width="1" height="35" fill="#c0c0c0"/>
<rect x="685" y="654" width="1" height="40" fill="#c0c0c0"/>
<rect x="693" y="654" width="1" height="43" fill="#c0c0c0"/>
<rect x="701" y="654" width="1" height="49" fill="#c0c0c0"/>
<rect x="709" y="654" width="1" height="51" fill="#c0c0c0"/>
<rect x="717" y="654" width="1" height="46" fill="#c0c0c0"/>
<rect x="725" y="654" width="1" height="38" fill="#c0c0c0"/>
<rect x="733" y="654" width="1" height="29" fill="#c0c0c0"/>
<rect x="741" y="654" width="1" height="21" fill="#c0c0c0"/>
<rect x="749" y="654" width="1" height="15" fill="#c0c0c0"/>
<rect x="757" y="654" width="1" height="13" fill="#c0c0c0"/>
<rect x="765" y="654" width="1" height="12" fill="#c0c0c0"/>
<rect x="773" y="654" width="1" height="12" fill="#c0c0c0"/>
<rect x="781" y="654" width="1" height="10" fill="#c0c0c0"/>
<rect x="789" y="654" width="1" height="9" fill="#c0c0c0"/>
<rect x="797" y="654" width="1" height="11" fill="#c0c0c0"/>
<rect x="805" y="654" width="1" height="17" fill="#c0c0c0"/>
<rect x="813" y="654" width="1" height="21" fill="#c0c0c0"/>
<rect x="821" y="654" width="1" height="25" fill="#c0c0c0"/>
<rect x="829" y="654" width="1" height="31" fill="#c0c0c0"/>
<rect x="837" y="654" width="1" height="36" fill="#c0c0c0"/>
<rect x="845" y="654" width="1" height="40" fill="#c0c0c0"/>
<rect x="853" y="654" width="1" height="47" fill="#c0c0c0"/>
<rect x="861" y="654" width="1" height="48" fill="#c0c0c0"/>
<rect x="869" y="654" width="1" height="48" fill="#c0c0c0"/>
<rect x="877" y="654" width="1" height="43" fill="#c0c0c0"/>
<rect x="885" y="654" width="1" height="39" fill="#c0c0c0"/>
<rect x="893" y="654" width="1" height="39" fill="#c0c0c0"/>
<rect x="901" y="654" width="1" height="47" fill="#c0c0c0"/>
<rect x="909" y="654" width="1" height="50" fill="#c0c0c0"/>
<rect x="917" y="654" width="1" height="45" fill="#c0c0c0"/>
<rect x="925" y="654" width="1" height="43" fill="#c0c0c0"/>
<rect x="933" y="654" width="1" height="40" fill="#c0c0c0"/>
<rect x="941" y="654" width="1" height="40" fill="#c0c0c0"/>
<rect x="949" y="654" width="1" height="42" fill="#c0c0c0"/>
<rect x="957" y="654" width="1" height="40" fill="#c0c0c0"/>
<rect x="965" y="654" width="1" height="40" fill="#c0c0c0"/>
<rect x="973" y="654" width="1" height="45" fill="#c0c0c0"/>
<rect x="981" y="654" width="1" height="48" fill="#c0c0c0"/>
<rect x="989" y="654" width="1" height="61" fill="#c0c0c0"/>
<rect x="997" y="654" width="1" height="75" fill="#c0c0c0"/>
<rect x="1005" y="654" width="1" height="85" fill="#c0c0c0"/>
<rect x="1013" y="654" width="1" height="94" fill="#c0c0c0"/>
<rect x="1021" y="654" width="1" height="98" fill="#c0c0c0"/>
<rect x="1029" y="654" width="1" height="100" fill="#c0c0c0"/>
<rect x="1037" y="654" width="1" height="101" fill="#c0c0c0"/>
<rect x="1045" y="654" width="1" height="99" fill="#c0c0c0"/>
<rect x="1053" y="654" width="1" height="98" fill="#c0c0c0"/>
<rect x="1061" y="654" width="1" height="96" fill="#c0c0c0"/>
<rect x="1069" y="654" width="1" height="100" fill="#c0c0c0"/>
<rect x="1077" y="654" width="1" height="104" fill="#c0c0c0"/>
<rect x="1085" y="654" width="1" height="101" fill="#c0c0c0"/>
<rect x="1093" y="654" width="1" height="101" fill="#c0c0c0"/>
<rect x="1101" y="654" width="1" height="98" fill="#c0c0c0"/>
<rect x="1109" y="654" width="1" height="93" fill="#c0c0c0"/>
<rect x="1117" y="654" width="1" height="84" fill="#c0c0c0"/>
<rect x="1125" y="654" width="1" height="76" fill="#c0c0c0"/>
<rect x="1133" y="654" width="1" height="70" fill="#c0c0c0"/>
<rect x="1141" y="654" width="1" height="63" fill="#c0c0c0"/>
<rect x="1149" y="654" width="1" height="58" fill="#c0c0c0"/>
<rect x="1157" y="654" width="1" height="46" fill="#c0c0c0"/>
<rect x="1165" y="654" width="1" height="33" fill="#c0c0c0"/>
<rect x="1173" y="654" width="1" height="25" fill="#c0c0c0"/>
<rect x="1181" y="654" width="1" height="21" fill="#c0c0c0"/>
<rect x="1189" y="654" width="1" height="13" fill="#c0c0c0"/>
<rect x="1197" y="654" width="1" height="11" fill="#c0c0c0"/>
<rect x="1205" y="654" width="1" height="12" fill="#c0c0c0"/>
<rect x="1213" y="654" width="1" height="15" fill="#c0c0c0"/>
<rect x="1221" y="654" width="1" height="16" fill="#c0c0c0"/>
<rect x="1229" y="654" width="1" height="24" fill="#c0c0c0"/>
<rect x="1237" y="654" width="1" height="28" fill="#c0c0c0"/>
<rect x="1245" y="654" width="1" height="19" fill="#c0c0c0"/>
<rect x="1253" y="654" width="1" height="8" fill="#c0c0c0"/>
<rect x="1261" y="654" width="1" height="1" fill="#c0c0c0"/>
<rect x="1269" y="649" width="1" height="6" fill="#c0c0c0"/>
<rect x="1277" y="641" width="1" height="14" fill="#c0c0c0"/>
<rect x="1285" y="634" width="1" height="21" fill="#c0c0c0"/>
<rect x="1293" y="631" width="1" height="24" fill="#c0c0c0"/>
<rect x="1301" y="628" width="1" height="27" fill="#c0c0c0"/>
<rect x="1309" y="617" width="1" height="38" fill="#c0c0c0"/>
<rect x="1317" y="607" width="1" height="48" fill="#c0c0c0"/>
<rect x="1325" y="604" width="1" height="51" fill="#c0c0c0"/>
<rect x="1333" y="598" width="1" height="57" fill="#c0c0c0"/>
</g>
<g clip-path="url(#cd)" shape-rendering="crispEdges">
<polyline points="3.0,597.1 12.1,594.0 22.1,595.1 30.1,599.1 40.2,604.1 50.2,610.1 60.3,613.1 70.3,615.6 80.4,616.2 92.4,615.1 100.5,611.5 112.5,611.1 120.6,610.1 128.6,610.5 140.7,613.1 154.7,618.6 164.8,626.2 176.8,635.2 188.9,643.9 198.9,648.7 209.0,655.3 221.1,662.4 233.1,667.4 245.2,669.4 261.2,671.4 281.3,672.4 297.4,672.4 309.5,673.8 321.5,675.0 333.0,678.0 340.0,681.5 348.1,683.9 356.1,686.5 364.2,690.5 372.2,692.1 382.2,692.5 392.3,691.1 400.3,687.5 410.4,681.5 420.4,674.4 430.5,667.4 440.5,662.0 450.6,658.4 460.6,656.7 470.7,656.7 478.7,660.0 486.7,665.4 496.8,672.4 506.8,681.5 516.9,690.5 526.9,700.6 537.0,710.6 547.0,719.6 557.1,725.7 567.1,729.7 577.2,732.7 587.2,734.7 597.3,735.1 607.3,734.3 617.4,732.7 627.4,729.7 637.5,726.7 647.5,721.7 657.6,715.6 663.0,711.6 670.0,706.6 680.1,701.0 692.2,696.5 704.2,695.5 720.3,695.5 736.4,693.5 746.4,690.5 756.5,688.1 766.5,682.5 776.6,677.4 786.6,672.8 796.7,668.8 806.7,666.4 816.7,666.8 824.8,669.4 836.8,671.4 846.9,676.0 856.9,681.5 867.0,687.5 877.0,691.5 887.1,693.5 899.1,695.1 909.2,698.5 925.3,698.5 933.3,697.1 945.4,696.5 961.4,696.5 981.5,696.5 989.6,698.5 993.0,699.1 1002.1,704.2 1010.1,709.6 1018.1,715.6 1026.2,721.7 1034.2,729.7 1042.2,736.1 1050.3,740.7 1058.3,745.8 1066.4,749.4 1074.4,751.8 1084.4,753.4 1094.5,753.8 1104.5,753.4 1114.6,751.4 1124.6,748.4 1134.7,744.4 1144.7,738.7 1154.8,731.7 1164.8,723.7 1174.9,713.6 1184.9,703.6 1195.0,693.5 1205.0,684.5 1215.1,678.4 1223.1,673.4 1231.1,671.8 1245.2,671.4 1253.3,669.4 1267.3,667.0 1275.4,663.8 1280.9,661.5 1288.2,658.6 1294.6,654.5 1300.5,651.3 1306.4,645.4 1312.3,639.5 1318.2,634.3 1324.6,630.2 1330.5,624.9 1333.7,622.7" fill="none" stroke="#ff0000" stroke-width="1" stroke-dasharray="2.6 3"/>
</g>
<g shape-rendering="crispEdges">
<line x1="0" y1="801.5" x2="1625" y2="801.5" stroke="#c0c0c0" stroke-width="1" stroke-dasharray="3 3"/>
<line x1="0" y1="848.5" x2="1625" y2="848.5" stroke="#c0c0c0" stroke-width="1" stroke-dasharray="3 3"/>
<line x1="0" y1="904.5" x2="1625" y2="904.5" stroke="#c0c0c0" stroke-width="1" stroke-dasharray="3 3"/>
</g>
<g clip-path="url(#cr)" shape-rendering="crispEdges">
<polyline points="-2.5,839.0 5.5,836.5 13.5,849.0 21.5,856.6 29.5,859.6 37.5,834.5 45.5,850.8 53.5,835.5 61.5,837.2 69.5,836.5 77.5,835.5 85.5,838.2 93.5,838.5 101.5,844.0 109.5,851.0 117.5,844.3 125.5,844.3 133.5,844.3 141.5,844.3 149.5,850.3 157.5,860.3 165.5,864.4 173.5,862.3 181.5,855.8 189.5,849.0 197.5,844.3 205.5,855.3 213.5,859.3 221.5,858.3 229.5,855.8 237.5,856.6 245.5,850.8 253.5,855.3 261.5,852.5 269.5,851.3 277.5,849.3 285.5,856.1 293.5,857.3 301.5,864.4 309.5,862.6 317.5,864.4 325.5,869.4 333.5,873.4 341.5,874.7 349.5,867.9 357.5,868.6 365.5,865.4 373.5,845.3 381.5,843.3 389.5,847.3 397.5,829.4 405.5,831.4 413.5,840.2 421.5,845.3 429.5,854.3 437.5,854.3 445.5,854.3 453.5,854.3 461.5,861.6 469.5,868.6 477.5,875.9 485.5,880.9 493.5,886.5 501.5,885.5 509.5,885.5 517.5,887.2 525.5,891.5 533.5,891.5 541.5,877.9 549.5,876.4 557.5,880.4 565.5,883.4 573.5,886.5 581.5,888.5 589.5,880.4 597.5,879.2 605.5,872.9 613.5,862.6 621.5,865.4 629.5,863.3 637.5,852.3 645.5,856.3 653.5,862.3 661.5,854.6 669.5,860.3 677.5,862.6 685.5,876.7 693.5,873.4 701.5,880.4 709.5,874.7 717.5,855.8 725.5,846.3 733.5,842.2 741.5,840.2 749.5,842.2 757.5,851.5 765.5,850.3 773.5,854.3 781.5,848.3 789.5,850.8 797.5,859.8 805.5,866.4 813.5,868.4 821.5,868.4 829.5,876.7 837.5,876.7 845.5,877.9 853.5,884.4 861.5,871.6 869.5,868.4 877.5,856.3 885.5,856.3 893.5,865.4 901.5,878.4 909.5,873.6 917.5,853.8 925.5,859.3 933.5,857.3 941.5,862.1 949.5,866.4 957.5,858.3 965.5,862.1 973.5,870.4 981.5,871.4 989.5,884.4 997.5,888.5 1005.5,888.5 1013.5,890.5 1021.5,883.4 1029.5,884.4 1037.5,883.4 1045.5,880.4 1053.5,882.4 1061.5,882.4 1069.5,889.5 1077.5,892.5 1085.5,879.4 1093.5,880.4 1101.5,881.4 1109.5,872.9 1117.5,861.6 1125.5,860.3 1133.5,864.4 1141.5,857.3 1149.5,862.3 1157.5,842.2 1165.5,837.5 1173.5,842.2 1181.5,848.3 1189.5,840.5 1197.5,849.3 1205.5,854.1 1213.5,858.6 1221.5,857.3 1229.5,868.3 1237.5,864.3 1245.5,842.1 1253.5,834.4 1261.5,839.3 1269.5,840.4 1277.5,833.4 1285.5,832.2 1293.5,836.3 1301.5,837.6 1309.5,822.4 1317.5,820.2 1325.5,832.5 1333.5,826.2" fill="none" stroke="#1e90ff" stroke-width="1"/>
</g>
<g shape-rendering="crispEdges" fill="#000">
<rect x="0" y="28" width="1626" height="1" fill="#000"/>
<rect x="1625" y="28" width="1" height="901" fill="#000"/>
<rect x="0" y="581" width="1626" height="1" fill="#000"/>
<rect x="0" y="583" width="1626" height="1" fill="#000"/>
<rect x="0" y="766" width="1626" height="1" fill="#000"/>
<rect x="0" y="768" width="1626" height="1" fill="#000"/>
<rect x="0" y="928" width="1626" height="1" fill="#000"/>
<rect x="1626" y="50" width="2" height="1" fill="#000"/>
<rect x="1626" y="83" width="2" height="1" fill="#000"/>
<rect x="1626" y="116" width="2" height="1" fill="#000"/>
<rect x="1626" y="149" width="2" height="1" fill="#000"/>
<rect x="1626" y="182" width="2" height="1" fill="#000"/>
<rect x="1626" y="215" width="2" height="1" fill="#000"/>
<rect x="1626" y="248" width="2" height="1" fill="#000"/>
<rect x="1626" y="281" width="2" height="1" fill="#000"/>
<rect x="1626" y="314" width="2" height="1" fill="#000"/>
<rect x="1626" y="347" width="2" height="1" fill="#000"/>
<rect x="1626" y="380" width="2" height="1" fill="#000"/>
<rect x="1626" y="413" width="2" height="1" fill="#000"/>
<rect x="1626" y="446" width="2" height="1" fill="#000"/>
<rect x="1626" y="479" width="2" height="1" fill="#000"/>
<rect x="1626" y="512" width="2" height="1" fill="#000"/>
<rect x="1626" y="545" width="2" height="1" fill="#000"/>
<rect x="1626" y="578" width="2" height="1" fill="#000"/>
<rect x="1626" y="585" width="1" height="1" fill="#000"/>
<rect x="1626" y="654" width="1" height="1" fill="#000"/>
<rect x="1626" y="765" width="1" height="1" fill="#000"/>
<rect x="1626" y="770" width="1" height="1" fill="#000"/>
<rect x="1626" y="801" width="1" height="1" fill="#000"/>
<rect x="1626" y="848" width="1" height="1" fill="#000"/>
<rect x="1626" y="904" width="1" height="1" fill="#000"/>
<rect x="1626" y="927" width="1" height="1" fill="#000"/>
<rect x="61" y="929" width="1" height="3" fill="#000"/>
<rect x="125" y="929" width="1" height="3" fill="#000"/>
<rect x="189" y="929" width="1" height="3" fill="#000"/>
<rect x="253" y="929" width="1" height="3" fill="#000"/>
<rect x="317" y="929" width="1" height="3" fill="#000"/>
<rect x="381" y="929" width="1" height="3" fill="#000"/>
<rect x="445" y="929" width="1" height="3" fill="#000"/>
<rect x="509" y="929" width="1" height="3" fill="#000"/>
<rect x="573" y="929" width="1" height="3" fill="#000"/>
<rect x="637" y="929" width="1" height="3" fill="#000"/>
<rect x="701" y="929" width="1" height="3" fill="#000"/>
<rect x="765" y="929" width="1" height="3" fill="#000"/>
<rect x="829" y="929" width="1" height="3" fill="#000"/>
<rect x="893" y="929" width="1" height="3" fill="#000"/>
<rect x="957" y="929" width="1" height="3" fill="#000"/>
<rect x="1021" y="929" width="1" height="3" fill="#000"/>
<rect x="1085" y="929" width="1" height="3" fill="#000"/>
<rect x="1149" y="929" width="1" height="3" fill="#000"/>
<rect x="1213" y="929" width="1" height="3" fill="#000"/>
<rect x="1277" y="929" width="1" height="3" fill="#000"/>
</g>
<path d="M1342,29 H1351 L1346.5,33.8 Z" fill="#c0c0c0"/>
<g font-family="'Liberation Sans', sans-serif">
<text x="1631.5" y="53.6" font-size="9.6" fill="#000" font-weight="normal" text-anchor="start" textLength="32.3" lengthAdjust="spacingAndGlyphs">1.33935</text>
<text x="1631.5" y="86.6" font-size="9.6" fill="#000" font-weight="normal" text-anchor="start" textLength="32.3" lengthAdjust="spacingAndGlyphs">1.33035</text>
<text x="1631.5" y="119.6" font-size="9.6" fill="#000" font-weight="normal" text-anchor="start" textLength="32.3" lengthAdjust="spacingAndGlyphs">1.32110</text>
<text x="1631.5" y="152.6" font-size="9.6" fill="#000" font-weight="normal" text-anchor="start" textLength="32.3" lengthAdjust="spacingAndGlyphs">1.31185</text>
<text x="1631.5" y="185.6" font-size="9.6" fill="#000" font-weight="normal" text-anchor="start" textLength="32.3" lengthAdjust="spacingAndGlyphs">1.30285</text>
<text x="1631.5" y="218.6" font-size="9.6" fill="#000" font-weight="normal" text-anchor="start" textLength="32.3" lengthAdjust="spacingAndGlyphs">1.29360</text>
<text x="1631.5" y="251.6" font-size="9.6" fill="#000" font-weight="normal" text-anchor="start" textLength="32.3" lengthAdjust="spacingAndGlyphs">1.28435</text>
<text x="1631.5" y="284.6" font-size="9.6" fill="#000" font-weight="normal" text-anchor="start" textLength="32.3" lengthAdjust="spacingAndGlyphs">1.27535</text>
<text x="1631.5" y="317.6" font-size="9.6" fill="#000" font-weight="normal" text-anchor="start" textLength="32.3" lengthAdjust="spacingAndGlyphs">1.26610</text>
<text x="1631.5" y="350.6" font-size="9.6" fill="#000" font-weight="normal" text-anchor="start" textLength="32.3" lengthAdjust="spacingAndGlyphs">1.25685</text>
<text x="1631.5" y="383.6" font-size="9.6" fill="#000" font-weight="normal" text-anchor="start" textLength="32.3" lengthAdjust="spacingAndGlyphs">1.24785</text>
<text x="1631.5" y="416.6" font-size="9.6" fill="#000" font-weight="normal" text-anchor="start" textLength="32.3" lengthAdjust="spacingAndGlyphs">1.23860</text>
<text x="1631.5" y="449.6" font-size="9.6" fill="#000" font-weight="normal" text-anchor="start" textLength="32.3" lengthAdjust="spacingAndGlyphs">1.22935</text>
<text x="1631.5" y="482.6" font-size="9.6" fill="#000" font-weight="normal" text-anchor="start" textLength="32.3" lengthAdjust="spacingAndGlyphs">1.22035</text>
<text x="1631.5" y="515.6" font-size="9.6" fill="#000" font-weight="normal" text-anchor="start" textLength="32.3" lengthAdjust="spacingAndGlyphs">1.21110</text>
<text x="1631.5" y="548.6" font-size="9.6" fill="#000" font-weight="normal" text-anchor="start" textLength="32.3" lengthAdjust="spacingAndGlyphs">1.20185</text>
<text x="1631.5" y="581.6" font-size="9.6" fill="#000" font-weight="normal" text-anchor="start" textLength="32.3" lengthAdjust="spacingAndGlyphs">1.19285</text>
<text x="1629" y="593.8" font-size="9.6" fill="#000" font-weight="normal" text-anchor="start" textLength="38" lengthAdjust="spacingAndGlyphs">0.008044</text>
<text x="1629" y="657.8" font-size="9.6" fill="#000" font-weight="normal" text-anchor="start" textLength="18.5" lengthAdjust="spacingAndGlyphs">0.00</text>
<text x="1629" y="762.8" font-size="9.6" fill="#000" font-weight="normal" text-anchor="start" textLength="40.7" lengthAdjust="spacingAndGlyphs">-0.012914</text>
<text x="1629.3" y="778.9" font-size="9.6" fill="#000" font-weight="normal" text-anchor="start" textLength="14.4" lengthAdjust="spacingAndGlyphs">100</text>
<text x="1628.6" y="804.8" font-size="9.6" fill="#000" font-weight="normal" text-anchor="start" textLength="9.6" lengthAdjust="spacingAndGlyphs">80</text>
<text x="1628.6" y="851.8" font-size="9.6" fill="#000" font-weight="normal" text-anchor="start" textLength="9.6" lengthAdjust="spacingAndGlyphs">50</text>
<text x="1628.6" y="907.9" font-size="9.6" fill="#000" font-weight="normal" text-anchor="start" textLength="9.6" lengthAdjust="spacingAndGlyphs">15</text>
<text x="1628.9" y="924.9" font-size="9.6" fill="#000" font-weight="normal" text-anchor="start" textLength="5.2" lengthAdjust="spacingAndGlyphs">0</text>
<text x="-3.3" y="940.7" font-size="9.6" fill="#000" font-weight="normal" text-anchor="start" textLength="46.0" lengthAdjust="spacingAndGlyphs">5 Mar 2019</text>
<text x="60.7" y="940.7" font-size="9.6" fill="#000" font-weight="normal" text-anchor="start" textLength="51.0" lengthAdjust="spacingAndGlyphs">14 Mar 2019</text>
<text x="124.7" y="940.7" font-size="9.6" fill="#000" font-weight="normal" text-anchor="start" textLength="51.0" lengthAdjust="spacingAndGlyphs">24 Mar 2019</text>
<text x="188.7" y="940.7" font-size="9.6" fill="#000" font-weight="normal" text-anchor="start" textLength="44.7" lengthAdjust="spacingAndGlyphs">2 Apr 2019</text>
<text x="252.7" y="940.7" font-size="9.6" fill="#000" font-weight="normal" text-anchor="start" textLength="49.7" lengthAdjust="spacingAndGlyphs">11 Apr 2019</text>
<text x="316.7" y="940.7" font-size="9.6" fill="#000" font-weight="normal" text-anchor="start" textLength="49.7" lengthAdjust="spacingAndGlyphs">22 Apr 2019</text>
<text x="380.7" y="940.7" font-size="9.6" fill="#000" font-weight="normal" text-anchor="start" textLength="47.3" lengthAdjust="spacingAndGlyphs">1 May 2019</text>
<text x="444.7" y="940.7" font-size="9.6" fill="#000" font-weight="normal" text-anchor="start" textLength="52.3" lengthAdjust="spacingAndGlyphs">10 May 2019</text>
<text x="508.7" y="940.7" font-size="9.6" fill="#000" font-weight="normal" text-anchor="start" textLength="52.3" lengthAdjust="spacingAndGlyphs">20 May 2019</text>
<text x="572.7" y="940.7" font-size="9.6" fill="#000" font-weight="normal" text-anchor="start" textLength="52.3" lengthAdjust="spacingAndGlyphs">29 May 2019</text>
<text x="636.7" y="940.7" font-size="9.6" fill="#000" font-weight="normal" text-anchor="start" textLength="44.9" lengthAdjust="spacingAndGlyphs">7 Jun 2019</text>
<text x="700.7" y="940.7" font-size="9.6" fill="#000" font-weight="normal" text-anchor="start" textLength="49.9" lengthAdjust="spacingAndGlyphs">17 Jun 2019</text>
<text x="764.7" y="940.7" font-size="9.6" fill="#000" font-weight="normal" text-anchor="start" textLength="49.9" lengthAdjust="spacingAndGlyphs">26 Jun 2019</text>
<text x="828.7" y="940.7" font-size="9.6" fill="#000" font-weight="normal" text-anchor="start" textLength="41.9" lengthAdjust="spacingAndGlyphs">5 Jul 2019</text>
<text x="892.7" y="940.7" font-size="9.6" fill="#000" font-weight="normal" text-anchor="start" textLength="46.9" lengthAdjust="spacingAndGlyphs">15 Jul 2019</text>
<text x="956.7" y="940.7" font-size="9.6" fill="#000" font-weight="normal" text-anchor="start" textLength="46.9" lengthAdjust="spacingAndGlyphs">24 Jul 2019</text>
<text x="1020.7" y="940.7" font-size="9.6" fill="#000" font-weight="normal" text-anchor="start" textLength="46.5" lengthAdjust="spacingAndGlyphs">2 Aug 2019</text>
<text x="1084.7" y="940.7" font-size="9.6" fill="#000" font-weight="normal" text-anchor="start" textLength="51.5" lengthAdjust="spacingAndGlyphs">12 Aug 2019</text>
<text x="1148.7" y="940.7" font-size="9.6" fill="#000" font-weight="normal" text-anchor="start" textLength="51.5" lengthAdjust="spacingAndGlyphs">21 Aug 2019</text>
<text x="1212.7" y="940.7" font-size="9.6" fill="#000" font-weight="normal" text-anchor="start" textLength="51.5" lengthAdjust="spacingAndGlyphs">30 Aug 2019</text>
<text x="1276.7" y="940.7" font-size="9.6" fill="#000" font-weight="normal" text-anchor="start" textLength="45.8" lengthAdjust="spacingAndGlyphs">9 Sep 2019</text>
<text x="12.2" y="39.8" font-size="9.6" fill="#000" font-weight="normal" text-anchor="start" textLength="214" lengthAdjust="spacingAndGlyphs" style="white-space:pre">GBPUSD-,Daily&#160;&#160;1.24234 1.25255 1.23915 1.25026</text>
<text x="1.5" y="595.7" font-size="9.6" fill="#000" font-weight="normal" text-anchor="start" textLength="147" lengthAdjust="spacingAndGlyphs">MACD(12,26,9) 0.006647 0.003671</text>
<text x="1.5" y="780.6" font-size="9.6" fill="#000" font-weight="normal" text-anchor="start" textLength="67" lengthAdjust="spacingAndGlyphs">RSI(14) 65.0341</text>
</g>
<path d="M0,39 L3.5,35 L7,39 Z" fill="#000"/>
<g font-family="'Liberation Sans', sans-serif">
<rect x="1627" y="335" width="41" height="11" fill="#ff4500" shape-rendering="crispEdges"/>
<text x="1631.8" y="343.7" font-size="9.2" fill="#fff" font-weight="normal" text-anchor="start" textLength="32" lengthAdjust="spacingAndGlyphs">1.25862</text>
<rect x="1619" y="338" width="6" height="6" fill="#ff4500" shape-rendering="crispEdges"/>
<rect x="1621" y="340" width="2" height="2" fill="#fff" shape-rendering="crispEdges"/>
<rect x="0" y="338" width="2" height="6" fill="#ff4500" shape-rendering="crispEdges"/>
<rect x="1627" y="350" width="41" height="11" fill="#ff4500" shape-rendering="crispEdges"/>
<text x="1631.8" y="358.7" font-size="9.2" fill="#fff" font-weight="normal" text-anchor="start" textLength="32" lengthAdjust="spacingAndGlyphs">1.25446</text>
<rect x="1619" y="353" width="6" height="6" fill="#ff4500" shape-rendering="crispEdges"/>
<rect x="1621" y="355" width="2" height="2" fill="#fff" shape-rendering="crispEdges"/>
<rect x="0" y="353" width="2" height="6" fill="#ff4500" shape-rendering="crispEdges"/>
<rect x="1627" y="366" width="41" height="10" fill="#000000" shape-rendering="crispEdges"/>
<text x="1631.8" y="374.7" font-size="9.2" fill="#fff" font-weight="normal" text-anchor="start" textLength="32" lengthAdjust="spacingAndGlyphs">1.25026</text>
<rect x="1627" y="376" width="41" height="11" fill="#32cd32" shape-rendering="crispEdges"/>
<text x="1631.8" y="384.7" font-size="9.2" fill="#fff" font-weight="normal" text-anchor="start" textLength="32" lengthAdjust="spacingAndGlyphs">1.24726</text>
<rect x="1619" y="379" width="6" height="6" fill="#32cd32" shape-rendering="crispEdges"/>
<rect x="1621" y="381" width="2" height="2" fill="#fff" shape-rendering="crispEdges"/>
<rect x="0" y="379" width="2" height="6" fill="#32cd32" shape-rendering="crispEdges"/>
<rect x="1627" y="389" width="41" height="11" fill="#0000ff" shape-rendering="crispEdges"/>
<text x="1631.8" y="397.7" font-size="9.2" fill="#fff" font-weight="normal" text-anchor="start" textLength="32" lengthAdjust="spacingAndGlyphs">1.24365</text>
<rect x="1619" y="392" width="6" height="6" fill="#0000ff" shape-rendering="crispEdges"/>
<rect x="1621" y="394" width="2" height="2" fill="#fff" shape-rendering="crispEdges"/>
<rect x="0" y="392" width="2" height="6" fill="#0000ff" shape-rendering="crispEdges"/>
<rect x="1627" y="403" width="41" height="11" fill="#0000ff" shape-rendering="crispEdges"/>
<text x="1631.8" y="411.7" font-size="9.2" fill="#fff" font-weight="normal" text-anchor="start" textLength="32" lengthAdjust="spacingAndGlyphs">1.23977</text>
<rect x="1619" y="406" width="6" height="6" fill="#0000ff" shape-rendering="crispEdges"/>
<rect x="1621" y="408" width="2" height="2" fill="#fff" shape-rendering="crispEdges"/>
<rect x="0" y="406" width="2" height="6" fill="#0000ff" shape-rendering="crispEdges"/>
</g>
<rect x="1488" y="366" width="99" height="32" fill="#fff" stroke="#ff0000" stroke-width="1" shape-rendering="crispEdges" transform="translate(0.5,0.5)"/>
<g font-family="'Liberation Sans', sans-serif"><text x="1490.4" y="392.8" font-size="30.5" fill="#ff0000" font-weight="normal" text-anchor="start" textLength="96.2" lengthAdjust="spacingAndGlyphs">1.24726</text></g>
<g shape-rendering="crispEdges"><rect x="1478" y="382" width="7" height="1" fill="#ff0000"/><rect x="1485" y="380" width="3" height="4" fill="#ff0000"/><rect x="1486" y="381" width="1" height="2" fill="#fff"/></g>
<g font-family="'Liberation Serif', 'Noto Serif CJK SC', serif" font-size="32" font-weight="300">
<text x="1427.2" y="439.2" fill="#063006" textLength="161" lengthAdjust="spacingAndGlyphs">多空转折点</text>
<text x="1426" y="438" fill="#00ff00" textLength="161" lengthAdjust="spacingAndGlyphs">多空转折点</text>
</g>
<defs><linearGradient id="pg" x1="0" y1="0" x2="0" y2="1"><stop offset="0" stop-color="#4444ea"/><stop offset="0.35" stop-color="#3232de"/><stop offset="0.8" stop-color="#1212b6"/><stop offset="1" stop-color="#0808a2"/></linearGradient><linearGradient id="pb" x1="0" y1="0" x2="0" y2="1"><stop offset="0" stop-color="#5656f6"/><stop offset="1" stop-color="#4444ea"/></linearGradient></defs>
<rect x="0" y="46" width="221.5" height="68" fill="#fff"/>
<rect x="0" y="72" width="109" height="40" fill="url(#pg)"/>
<rect x="111.2" y="72" width="108.2" height="40" fill="url(#pg)"/>
<rect x="0" y="48" width="51.8" height="24.5" fill="url(#pb)"/>
<rect x="167.4" y="48" width="52" height="24.5" fill="url(#pb)"/>
<rect x="0" y="48" width="51.8" height="1" fill="#1010b0"/>
<rect x="167.4" y="48" width="52" height="1" fill="#1010b0"/>
<rect x="0" y="48" width="0.8" height="64" fill="#1818b8"/>
<rect x="4" y="72" width="44" height="0.9" fill="#9494ff"/>
<rect x="171" y="72" width="44" height="0.9" fill="#9494ff"/>
<rect x="54" y="48.5" width="112.6" height="20.6" fill="#fff" stroke="#a6a6a6" stroke-width="1"/>
<rect x="54.5" y="49" width="20.6" height="19.6" fill="#e9e9e9"/>
<rect x="143.8" y="49" width="22.3" height="19.6" fill="#e9e9e9"/>
<rect x="75.1" y="49" width="0.9" height="19.6" fill="#a6a6a6"/>
<rect x="143" y="49" width="0.9" height="19.6" fill="#a6a6a6"/>
<path d="M61.6,57.2 H67.4 L64.5,60.4 Z" fill="#000"/>
<path d="M150.6,60.4 H156.4 L153.5,57.2 Z" fill="#000"/>
<g font-family="'Liberation Sans', sans-serif" fill="#fff">
<text x="117.6" y="62.2" font-size="11.5" fill="#000" textLength="22.6" lengthAdjust="spacingAndGlyphs">1.00</text>
<text x="12.6" y="64.2" font-size="12" textLength="25.8" lengthAdjust="spacingAndGlyphs">SELL</text>
<text x="180.8" y="64.2" font-size="12" textLength="22.4" lengthAdjust="spacingAndGlyphs">BUY</text>
<text x="20.7" y="103" font-size="12.5" font-weight="bold" textLength="23.5" lengthAdjust="spacingAndGlyphs">1.25</text>
<text x="130.5" y="103" font-size="12.5" font-weight="bold" textLength="23.5" lengthAdjust="spacingAndGlyphs">1.25</text>
<text x="47.8" y="103" font-size="34" textLength="34.2" lengthAdjust="spacingAndGlyphs">02</text>
<text x="158.8" y="103" font-size="34" textLength="34.2" lengthAdjust="spacingAndGlyphs">05</text>
<text x="87.2" y="87" font-size="12" font-weight="bold" textLength="7.2" lengthAdjust="spacingAndGlyphs">6</text>
<text x="198.2" y="87" font-size="12" font-weight="bold" textLength="6.9" lengthAdjust="spacingAndGlyphs">3</text>
</g>
<defs><linearGradient id="gold" x1="0" y1="0" x2="1" y2="1"><stop offset="0" stop-color="#f3cf28"/><stop offset="0.6" stop-color="#efc21e"/><stop offset="1" stop-color="#d9a016"/></linearGradient><radialGradient id="plg" cx="0.45" cy="0.4" r="0.6"><stop offset="0" stop-color="#6cf26c"/><stop offset="1" stop-color="#14ad14"/></radialGradient><linearGradient id="cld" x1="0" y1="0" x2="0" y2="1"><stop offset="0.3" stop-color="#ffffff"/><stop offset="1" stop-color="#b4c2dc"/></linearGradient><linearGradient id="sgn" x1="0" y1="0" x2="1" y2="1"><stop offset="0" stop-color="#dcefd8"/><stop offset="1" stop-color="#3a9e3a"/></linearGradient><linearGradient id="blu" x1="0" y1="0" x2="0" y2="1"><stop offset="0" stop-color="#6aa8e8"/><stop offset="1" stop-color="#1558c0"/></linearGradient></defs>
<path d="M-3,4.4 H4.6 L7.6,7.4 V14.5 H-3 Z" fill="#fdfdfd" stroke="#8a8a8a" stroke-width="0.9"/>
<path d="M4.6,4.4 V7.4 H7.6" fill="#e4e4e4" stroke="#8a8a8a" stroke-width="0.7"/>
<path d="M-1,7 H2.5 M-1,9.8 H4.5 M-1,12.3 H2.6" stroke="#9a9a9a" stroke-width="1"/>
<path d="M4.2,10.2 H7.8 V14.2 H11.8 V17.8 H7.8 V21.8 H4.2 V17.8 H0.20000000000000018 V14.2 H4.2 Z" fill="url(#plg)" stroke="#0a8f0a" stroke-width="0.9"/>
<text x="14.6" y="14.9" font-family="'Liberation Sans', 'Noto Sans CJK SC', sans-serif" font-size="12" fill="#000" textLength="36.8" lengthAdjust="spacingAndGlyphs">新订单</text>
<path d="M63,13.7 L68.2,5.2 L69.2,5 L78.9,12.2 L79,14 L71.4,19.7 L70,19.6 L63,15 Z" fill="#c9901a" stroke="#9a6410" stroke-width="0.7"/>
<path d="M72,18 L78.6,12.9 L78.7,14 L71.6,19.3 Z" fill="#e8ddb0"/>
<path d="M63.6,13.4 L68.6,5.6 L77.6,11.8 L71,17.5 Z" fill="url(#gold)"/>
<path d="M93.2,5.6 L95.5,4.2 H102.5 L104,5.6 V13 H93.2 Z" fill="#1ea4fa"/>
<path d="M93.2,5.6 L96.6,6.6 V13 H93.2 Z" fill="#0a92f0"/>
<path d="M93.4,5.5 L96.6,6.5 V12.5 M96.6,6.5 H103.8" stroke="#c8ecff" stroke-width="0.7" fill="none"/>
<rect x="98" y="8.3" width="4.6" height="1.3" fill="#e6f6ff"/>
<path d="M94.2,19.4 Q91,19.4 91.2,16.8 Q91.4,14.6 93.8,14.6 Q94.6,12.2 97.6,12.8 Q99.6,11.6 101.4,13.4 Q106.8,12.8 106.8,16.6 Q106.8,19.4 103.6,19.4 Z" fill="url(#cld)" stroke="#4f6fae" stroke-width="0.9"/>
<path d="M127,4.2 A7.6,7.6 0 0 1 127.4,19.4 L127.4,11.8 Z" fill="url(#sgn)" opacity="0.85"/>
<g fill="none" stroke-width="1.1"><path d="M127,4.2 A7.6,7.6 0 0 0 124,18.8" stroke="#7d9be0" stroke-dasharray="2 1.2"/><path d="M127,7.1 A4.7,4.7 0 0 0 124.6,15.9" stroke="#7d9be0" stroke-dasharray="2 1.2"/><path d="M127,4.2 A7.6,7.6 0 0 1 131.6,17.8" stroke="#5e8eb0" opacity="0.7"/><path d="M127,7.1 A4.7,4.7 0 0 1 130.4,15" stroke="#eaf6e6"/></g>
<circle cx="126.9" cy="11.6" r="1.9" fill="#1f4fd2"/>
<path d="M127.5,11.8 V19.6" stroke="#1fa52f" stroke-width="1.5"/>
<path d="M147,10.6 H161.5 L155,19.5 H153.5 Z" fill="#f6da4a" stroke="#c9a21a" stroke-width="0.8"/>
<ellipse cx="154" cy="8.6" rx="8" ry="2.6" fill="#4aa0dc" stroke="#2f80bd" stroke-width="0.6"/>
<ellipse cx="154" cy="6.8" rx="4.4" ry="2.9" fill="#6bbcf0" stroke="#2f80bd" stroke-width="0.6"/>
<circle cx="158.6" cy="15.9" r="4.2" fill="#e3220f" stroke="#b01000" stroke-width="0.6"/>
<rect x="157.2" y="14.5" width="2.8" height="2.8" fill="#fff"/>
<text x="167.3" y="14.9" font-family="'Liberation Sans', 'Noto Sans CJK SC', sans-serif" font-size="12" fill="#000" textLength="46.8" lengthAdjust="spacingAndGlyphs">自动交易</text>
<rect x="222" y="1" width="1" height="22" fill="#a0a0a0" shape-rendering="crispEdges"/>
<rect x="223" y="1" width="1" height="22" fill="#ffffff" shape-rendering="crispEdges"/>
<rect x="226" y="2" width="3" height="1" fill="#a8a8a8" shape-rendering="crispEdges"/>
<rect x="226" y="4" width="3" height="1" fill="#a8a8a8" shape-rendering="crispEdges"/>
<rect x="226" y="6" width="3" height="1" fill="#a8a8a8" shape-rendering="crispEdges"/>
<rect x="226" y="8" width="3" height="1" fill="#a8a8a8" shape-rendering="crispEdges"/>
<rect x="226" y="10" width="3" height="1" fill="#a8a8a8" shape-rendering="crispEdges"/>
<rect x="226" y="12" width="3" height="1" fill="#a8a8a8" shape-rendering="crispEdges"/>
<rect x="226" y="14" width="3" height="1" fill="#a8a8a8" shape-rendering="crispEdges"/>
<rect x="226" y="16" width="3" height="1" fill="#a8a8a8" shape-rendering="crispEdges"/>
<rect x="226" y="18" width="3" height="1" fill="#a8a8a8" shape-rendering="crispEdges"/>
<rect x="226" y="20" width="3" height="1" fill="#a8a8a8" shape-rendering="crispEdges"/>
<g stroke="#505050" stroke-width="1.25" fill="none"><path d="M240.5,19.6 V6.6 M237.9,17.5 H251.5"/></g>
<path d="M238.8,8.2 L240.5,5.8 L242.2,8.2 Z M250.1,15.8 L252.3,17.5 L250.1,19.2 Z" fill="#505050"/>
<path d="M246.6,7.2 V15.2 M244.2,14.5 H246.6 M246.6,8.2 H249.2" stroke="#1f9f1f" stroke-width="1.3" fill="none"/>
<rect x="260" y="0" width="25" height="22" fill="#f9f9f9" shape-rendering="crispEdges"/>
<rect x="260" y="0" width="25" height="1" fill="#a0a0a0" shape-rendering="crispEdges"/>
<rect x="260" y="0" width="1" height="22" fill="#a0a0a0" shape-rendering="crispEdges"/>
<rect x="285" y="0" width="1" height="22" fill="#ffffff" shape-rendering="crispEdges"/>
<rect x="260" y="22" width="26" height="1" fill="#ffffff" shape-rendering="crispEdges"/>
<g stroke="#505050" stroke-width="1.25" fill="none"><path d="M268.5,19.6 V6.6 M265.9,17.5 H279.5"/></g>
<path d="M266.8,8.2 L268.5,5.8 L270.2,8.2 Z M278.1,15.8 L280.3,17.5 L278.1,19.2 Z" fill="#505050"/>
<path d="M274.5,4.3 V15.6" stroke="#0f8f0f" stroke-width="1.2"/>
<rect x="272.3" y="6.4" width="4.6" height="7.2" fill="#5be35b" stroke="#0f8f0f" stroke-width="1"/>
<g stroke="#505050" stroke-width="1.25" fill="none"><path d="M296.5,19.6 V6.6 M293.9,17.5 H307.5"/></g>
<path d="M294.8,8.2 L296.5,5.8 L298.2,8.2 Z M306.1,15.8 L308.3,17.5 L306.1,19.2 Z" fill="#505050"/>
<path d="M295.2,14.8 Q299.5,8.2 301.5,9.2 Q303.5,10 306.8,13" stroke="#2fa02f" stroke-width="1.2" fill="none"/>
<rect x="317" y="1" width="1" height="21" fill="#a0a0a0" shape-rendering="crispEdges"/>
<path d="M335.6,14.2 L340.40000000000003,18.4" stroke="#9a7410" stroke-width="3.4" stroke-linecap="round"/>
<path d="M335.6,14.2 L340.40000000000003,18.4" stroke="#ecc84a" stroke-width="2" stroke-linecap="round"/>
<circle cx="331.8" cy="10" r="5.3" fill="#d6ecfb" stroke="#3a7cc8" stroke-width="1.5"/>
<path d="M328.8,10 H334.8" stroke="#3a86c0" stroke-width="1.6"/>
<path d="M331.8,7 V13" stroke="#3a86c0" stroke-width="1.6"/>
<path d="M363.6,14.2 L368.40000000000003,18.4" stroke="#9a7410" stroke-width="3.4" stroke-linecap="round"/>
<path d="M363.6,14.2 L368.40000000000003,18.4" stroke="#ecc84a" stroke-width="2" stroke-linecap="round"/>
<circle cx="359.8" cy="10" r="5.3" fill="#d6ecfb" stroke="#3a7cc8" stroke-width="1.5"/>
<path d="M356.8,10 H362.8" stroke="#3a86c0" stroke-width="1.6"/>
<rect x="382.2" y="4.2" width="7.7" height="7.6" fill="#3a9a1a"/>
<rect x="383.4" y="7.2" width="5.4" height="3.6" fill="#f4f8ff"/>
<rect x="390.3" y="4.2" width="7.7" height="7.6" fill="#2050c8"/>
<rect x="391.5" y="7.2" width="5.4" height="3.6" fill="#f4f8ff"/>
<rect x="382.2" y="12.1" width="7.7" height="7.6" fill="#2050c8"/>
<rect x="383.4" y="15.1" width="5.4" height="3.6" fill="#f4f8ff"/>
<rect x="390.3" y="12.1" width="7.7" height="7.6" fill="#3a9a1a"/>
<rect x="391.5" y="15.1" width="5.4" height="3.6" fill="#f4f8ff"/>
<rect x="407" y="1" width="1" height="21" fill="#a0a0a0" shape-rendering="crispEdges"/>
<rect x="412" y="0" width="25" height="22" fill="#f9f9f9" shape-rendering="crispEdges"/>
<rect x="412" y="0" width="25" height="1" fill="#a0a0a0" shape-rendering="crispEdges"/>
<rect x="412" y="0" width="1" height="22" fill="#a0a0a0" shape-rendering="crispEdges"/>
<rect x="437" y="0" width="1" height="22" fill="#ffffff" shape-rendering="crispEdges"/>
<rect x="412" y="22" width="26" height="1" fill="#ffffff" shape-rendering="crispEdges"/>
<g stroke="#505050" stroke-width="1.25" fill="none"><path d="M420.5,19.6 V6.6 M417.9,17.5 H431.5"/></g>
<path d="M418.8,8.2 L420.5,5.8 L422.2,8.2 Z M430.1,15.8 L432.3,17.5 L430.1,19.2 Z" fill="#505050"/>
<path d="M425.2,8 L429.2,11.4 L425.2,14.8 Z" fill="#3ccc3c" stroke="#109010" stroke-width="0.8"/>
<rect x="440" y="0" width="25" height="22" fill="#f9f9f9" shape-rendering="crispEdges"/>
<rect x="440" y="0" width="25" height="1" fill="#a0a0a0" shape-rendering="crispEdges"/>
<rect x="440" y="0" width="1" height="22" fill="#a0a0a0" shape-rendering="crispEdges"/>
<rect x="465" y="0" width="1" height="22" fill="#ffffff" shape-rendering="crispEdges"/>
<rect x="440" y="22" width="26" height="1" fill="#ffffff" shape-rendering="crispEdges"/>
<g stroke="#505050" stroke-width="1.25" fill="none"><path d="M448.5,19.6 V6.6 M445.9,17.5 H459.5"/></g>
<path d="M446.8,8.2 L448.5,5.8 L450.2,8.2 Z M458.1,15.8 L460.3,17.5 L458.1,19.2 Z" fill="#505050"/>
<path d="M454.5,6.4 V15.6" stroke="#2272b4" stroke-width="1.3"/>
<path d="M455.4,11.4 L458.6,9 V13.8 Z M458,11.4 H460.2" fill="#e04a00" stroke="#e04a00" stroke-width="0.9"/>
<rect x="469" y="1" width="1" height="21" fill="#a0a0a0" shape-rendering="crispEdges"/>
<path d="M479.5,5 H487 L490.5,8.5 V17.3 H479.5 Z" fill="#fdfdfd" stroke="#8c8c8c" stroke-width="0.9"/>
<path d="M487,5 V8.5 H490.5" fill="none" stroke="#8c8c8c" stroke-width="0.8"/>
<path d="M485,7.5 Q483,7.2 483,9.5 V14 M481.8,10.5 H484.5" stroke="#5a4a2a" stroke-width="1" fill="none"/>
<path d="M487.2,9.899999999999999 H490.8 V13.899999999999999 H494.8 V17.5 H490.8 V21.5 H487.2 V17.5 H483.2 V13.899999999999999 H487.2 Z" fill="url(#plg)" stroke="#0a8f0a" stroke-width="0.9"/>
<path d="M501,11 L506.4,11 L503.7,14 Z" fill="#000"/>
<circle cx="525" cy="11.8" r="7.4" fill="url(#blu)" stroke="#0f4eb0" stroke-width="0.8"/>
<circle cx="525" cy="11.8" r="5" fill="#fbfdff"/>
<path d="M524.6,8.2 V12 L527.4,13" stroke="#333" stroke-width="1.1" fill="none"/>
<path d="M539.8,11 L545.1999999999999,11 L542.5,14 Z" fill="#000"/>
<rect x="556.6" y="5.6" width="15" height="12.8" fill="#fff" stroke="#3a78c8" stroke-width="1.2"/>
<rect x="557" y="5.6" width="14.2" height="2" fill="#5a9ae0"/>
<path d="M556.6,12.6 H571.6" stroke="#3a78c8" stroke-width="1"/>
<path d="M558.5,11.3 H560.5 L562,9.6 H564 L565.5,10.6 H567.5 L569,9.4 H570.3" stroke="#a02a10" stroke-width="1.3" fill="none"/>
<path d="M558.8,16.6 H561 L562.5,15.5 H564.5 L567,14 L569.8,16.4" stroke="#18a028" stroke-width="1.3" fill="none"/>
<path d="M578.7,11 L584.1,11 L581.4000000000001,14 Z" fill="#000"/>
<rect x="590" y="1" width="1" height="22" fill="#a0a0a0" shape-rendering="crispEdges"/>
<rect x="591" y="1" width="1" height="22" fill="#ffffff" shape-rendering="crispEdges"/>
<rect x="594" y="2" width="3" height="1" fill="#a8a8a8" shape-rendering="crispEdges"/>
<rect x="594" y="4" width="3" height="1" fill="#a8a8a8" shape-rendering="crispEdges"/>
<rect x="594" y="6" width="3" height="1" fill="#a8a8a8" shape-rendering="crispEdges"/>
<rect x="594" y="8" width="3" height="1" fill="#a8a8a8" shape-rendering="crispEdges"/>
<rect x="594" y="10" width="3" height="1" fill="#a8a8a8" shape-rendering="crispEdges"/>
<rect x="594" y="12" width="3" height="1" fill="#a8a8a8" shape-rendering="crispEdges"/>
<rect x="594" y="14" width="3" height="1" fill="#a8a8a8" shape-rendering="crispEdges"/>
<rect x="594" y="16" width="3" height="1" fill="#a8a8a8" shape-rendering="crispEdges"/>
<rect x="594" y="18" width="3" height="1" fill="#a8a8a8" shape-rendering="crispEdges"/>
<rect x="594" y="20" width="3" height="1" fill="#a8a8a8" shape-rendering="crispEdges"/>
<rect x="600" y="0" width="25" height="22" fill="#f9f9f9" shape-rendering="crispEdges"/>
<rect x="600" y="0" width="25" height="1" fill="#a0a0a0" shape-rendering="crispEdges"/>
<rect x="600" y="0" width="1" height="22" fill="#a0a0a0" shape-rendering="crispEdges"/>
<rect x="625" y="0" width="1" height="22" fill="#ffffff" shape-rendering="crispEdges"/>
<rect x="600" y="22" width="26" height="1" fill="#ffffff" shape-rendering="crispEdges"/>
<path d="M608,5 V16.4 L610.8,13.8 L613.4,19 L615.2,18.1 L612.8,13.1 H616.4 Z" fill="#505050"/>
<path d="M633,12.5 H639.4 M641.6,12.5 H648 M640.5,5 V11.4 M640.5,13.6 V19.8" stroke="#505050" stroke-width="1.3"/>
<rect x="640" y="12" width="1" height="1" fill="#505050"/>
<rect x="657" y="1" width="1" height="21" fill="#a0a0a0" shape-rendering="crispEdges"/>
<path d="M674.5,6 V18.8" stroke="#484848" stroke-width="1.5"/>
<path d="M697,12.5 H709.2" stroke="#484848" stroke-width="1.4"/>
<path d="M724.6,19 L737.2,6.8" stroke="#505050" stroke-width="1.2"/>
<g stroke="#505050" stroke-width="1" fill="none"><path d="M751,14 L763.5,4.5 M752,17 L765,7.5 M753.5,19.5 L766,10.5"/><path d="M754,11 L755.5,19 M757.5,8.5 L759,16.5 M761,6 L762.5,14 M764,4 L765,11"/></g>
<text x="762" y="21" font-family="'Liberation Sans', sans-serif" font-size="7" font-weight="bold" fill="#404040">E</text>
<path d="M780,5.5 H793.2" stroke="#505050" stroke-width="1" stroke-dasharray="1 1"/>
<path d="M780,8.7 H793.2" stroke="#505050" stroke-width="1" stroke-dasharray="1 1"/>
<path d="M780,12.7 H793.2" stroke="#505050" stroke-width="1" stroke-dasharray="1 1"/>
<path d="M780,16.8 H789" stroke="#505050" stroke-width="1" stroke-dasharray="1 1"/>
<text x="789.6" y="21" font-family="'Liberation Sans', sans-serif" font-size="7" font-weight="bold" fill="#404040">F</text>
<text x="810.8" y="16.9" font-family="'Liberation Sans', sans-serif" font-size="12.5" fill="#505050" stroke="#505050" stroke-width="0.4" textLength="7.8" lengthAdjust="spacingAndGlyphs">A</text>
<rect x="837.5" y="6.5" width="11.2" height="12" fill="none" stroke="#505050" stroke-width="1" stroke-dasharray="1 1"/>
<rect x="836.6" y="5.4" width="2" height="1.4" fill="#505050"/>
<text x="839.4" y="16.9" font-family="'Liberation Sans', sans-serif" font-size="11" font-weight="bold" fill="#505050" textLength="7.4" lengthAdjust="spacingAndGlyphs">T</text>
<path d="M864,8.6 L867.6,6 L871.2,8.6 L867.6,10.8 Z" fill="#505050"/>
<path d="M871,16.6 L874.6,14.4 L878.2,16.6 L874.6,19.2 Z" fill="#505050"/>
<path d="M866,13.4 L868.6,15.6 L872.6,10.6" stroke="#505050" stroke-width="1.4" fill="none"/>
<path d="M884.8,11 L890.1999999999999,11 L887.5,14 Z" fill="#000"/>
<rect x="896" y="1" width="1" height="22" fill="#a0a0a0" shape-rendering="crispEdges"/>
<rect x="897" y="1" width="1" height="22" fill="#ffffff" shape-rendering="crispEdges"/>
<rect x="900" y="2" width="3" height="1" fill="#a8a8a8" shape-rendering="crispEdges"/>
<rect x="900" y="4" width="3" height="1" fill="#a8a8a8" shape-rendering="crispEdges"/>
<rect x="900" y="6" width="3" height="1" fill="#a8a8a8" shape-rendering="crispEdges"/>
<rect x="900" y="8" width="3" height="1" fill="#a8a8a8" shape-rendering="crispEdges"/>
<rect x="900" y="10" width="3" height="1" fill="#a8a8a8" shape-rendering="crispEdges"/>
<rect x="900" y="12" width="3" height="1" fill="#a8a8a8" shape-rendering="crispEdges"/>
<rect x="900" y="14" width="3" height="1" fill="#a8a8a8" shape-rendering="crispEdges"/>
<rect x="900" y="16" width="3" height="1" fill="#a8a8a8" shape-rendering="crispEdges"/>
<rect x="900" y="18" width="3" height="1" fill="#a8a8a8" shape-rendering="crispEdges"/>
<rect x="900" y="20" width="3" height="1" fill="#a8a8a8" shape-rendering="crispEdges"/>
<rect x="1074" y="0" width="25" height="22" fill="#f9f9f9" shape-rendering="crispEdges"/>
<rect x="1074" y="0" width="25" height="1" fill="#a0a0a0" shape-rendering="crispEdges"/>
<rect x="1074" y="0" width="1" height="22" fill="#a0a0a0" shape-rendering="crispEdges"/>
<rect x="1099" y="0" width="1" height="22" fill="#ffffff" shape-rendering="crispEdges"/>
<rect x="1074" y="22" width="26" height="1" fill="#ffffff" shape-rendering="crispEdges"/>
<g font-family="'Liberation Sans', sans-serif" font-size="9" fill="#3c3c3c">
<text x="911.6" y="15.8" textLength="12.4" lengthAdjust="spacingAndGlyphs">M1</text>
<text x="939.7" y="15.8" textLength="12.5" lengthAdjust="spacingAndGlyphs">M5</text>
<text x="965.7" y="15.8" textLength="17.3" lengthAdjust="spacingAndGlyphs">M15</text>
<text x="993.6" y="15.8" textLength="17.7" lengthAdjust="spacingAndGlyphs">M30</text>
<text x="1024.9" y="15.8" textLength="11.3" lengthAdjust="spacingAndGlyphs">H1</text>
<text x="1051.7" y="15.8" textLength="12.2" lengthAdjust="spacingAndGlyphs">H4</text>
<text x="1080.7" y="15.8" textLength="11.5" lengthAdjust="spacingAndGlyphs">D1</text>
<text x="1108" y="15.8" textLength="14" lengthAdjust="spacingAndGlyphs">W1</text>
<text x="1134.7" y="15.8" textLength="14.3" lengthAdjust="spacingAndGlyphs">MN</text>
</g>
<rect x="1157" y="1" width="1" height="22" fill="#a0a0a0" shape-rendering="crispEdges"/>
<rect x="1158" y="1" width="1" height="22" fill="#ffffff" shape-rendering="crispEdges"/>
<path d="M1624.2,12.6 L1620.2,16.8" stroke="#2458d8" stroke-width="2.6" stroke-linecap="round"/>
<circle cx="1627.4" cy="9.6" r="4" fill="#f4f6ff" stroke="#2a5fe0" stroke-width="1.2"/>
<path d="M1660.2,4.4 C1664.6,4.4 1666.8,6.4 1666.8,8.9 C1666.8,10.8 1665.6,12.2 1663.6,12.9 L1664,15.4 L1661.4,13.4 C1656,13.8 1653.6,11.4 1653.6,8.9 C1653.6,6.4 1655.8,4.4 1660.2,4.4 Z" fill="#f2f2f8" stroke="#8c8c8c" stroke-width="0.9"/>
<path d="M1651.3,9.1 C1654.8,9.1 1656.4,10.7 1656.4,12.7 C1656.4,14.8 1654.6,16.4 1650.6,16.3 L1648.4,18.4 L1648.6,15.8 C1647,15.2 1646.2,14 1646.2,12.7 C1646.2,10.7 1647.8,9.1 1651.3,9.1 Z" fill="#f2f2f8" stroke="#8c8c8c" stroke-width="0.9"/>
</svg>

</body></html>
